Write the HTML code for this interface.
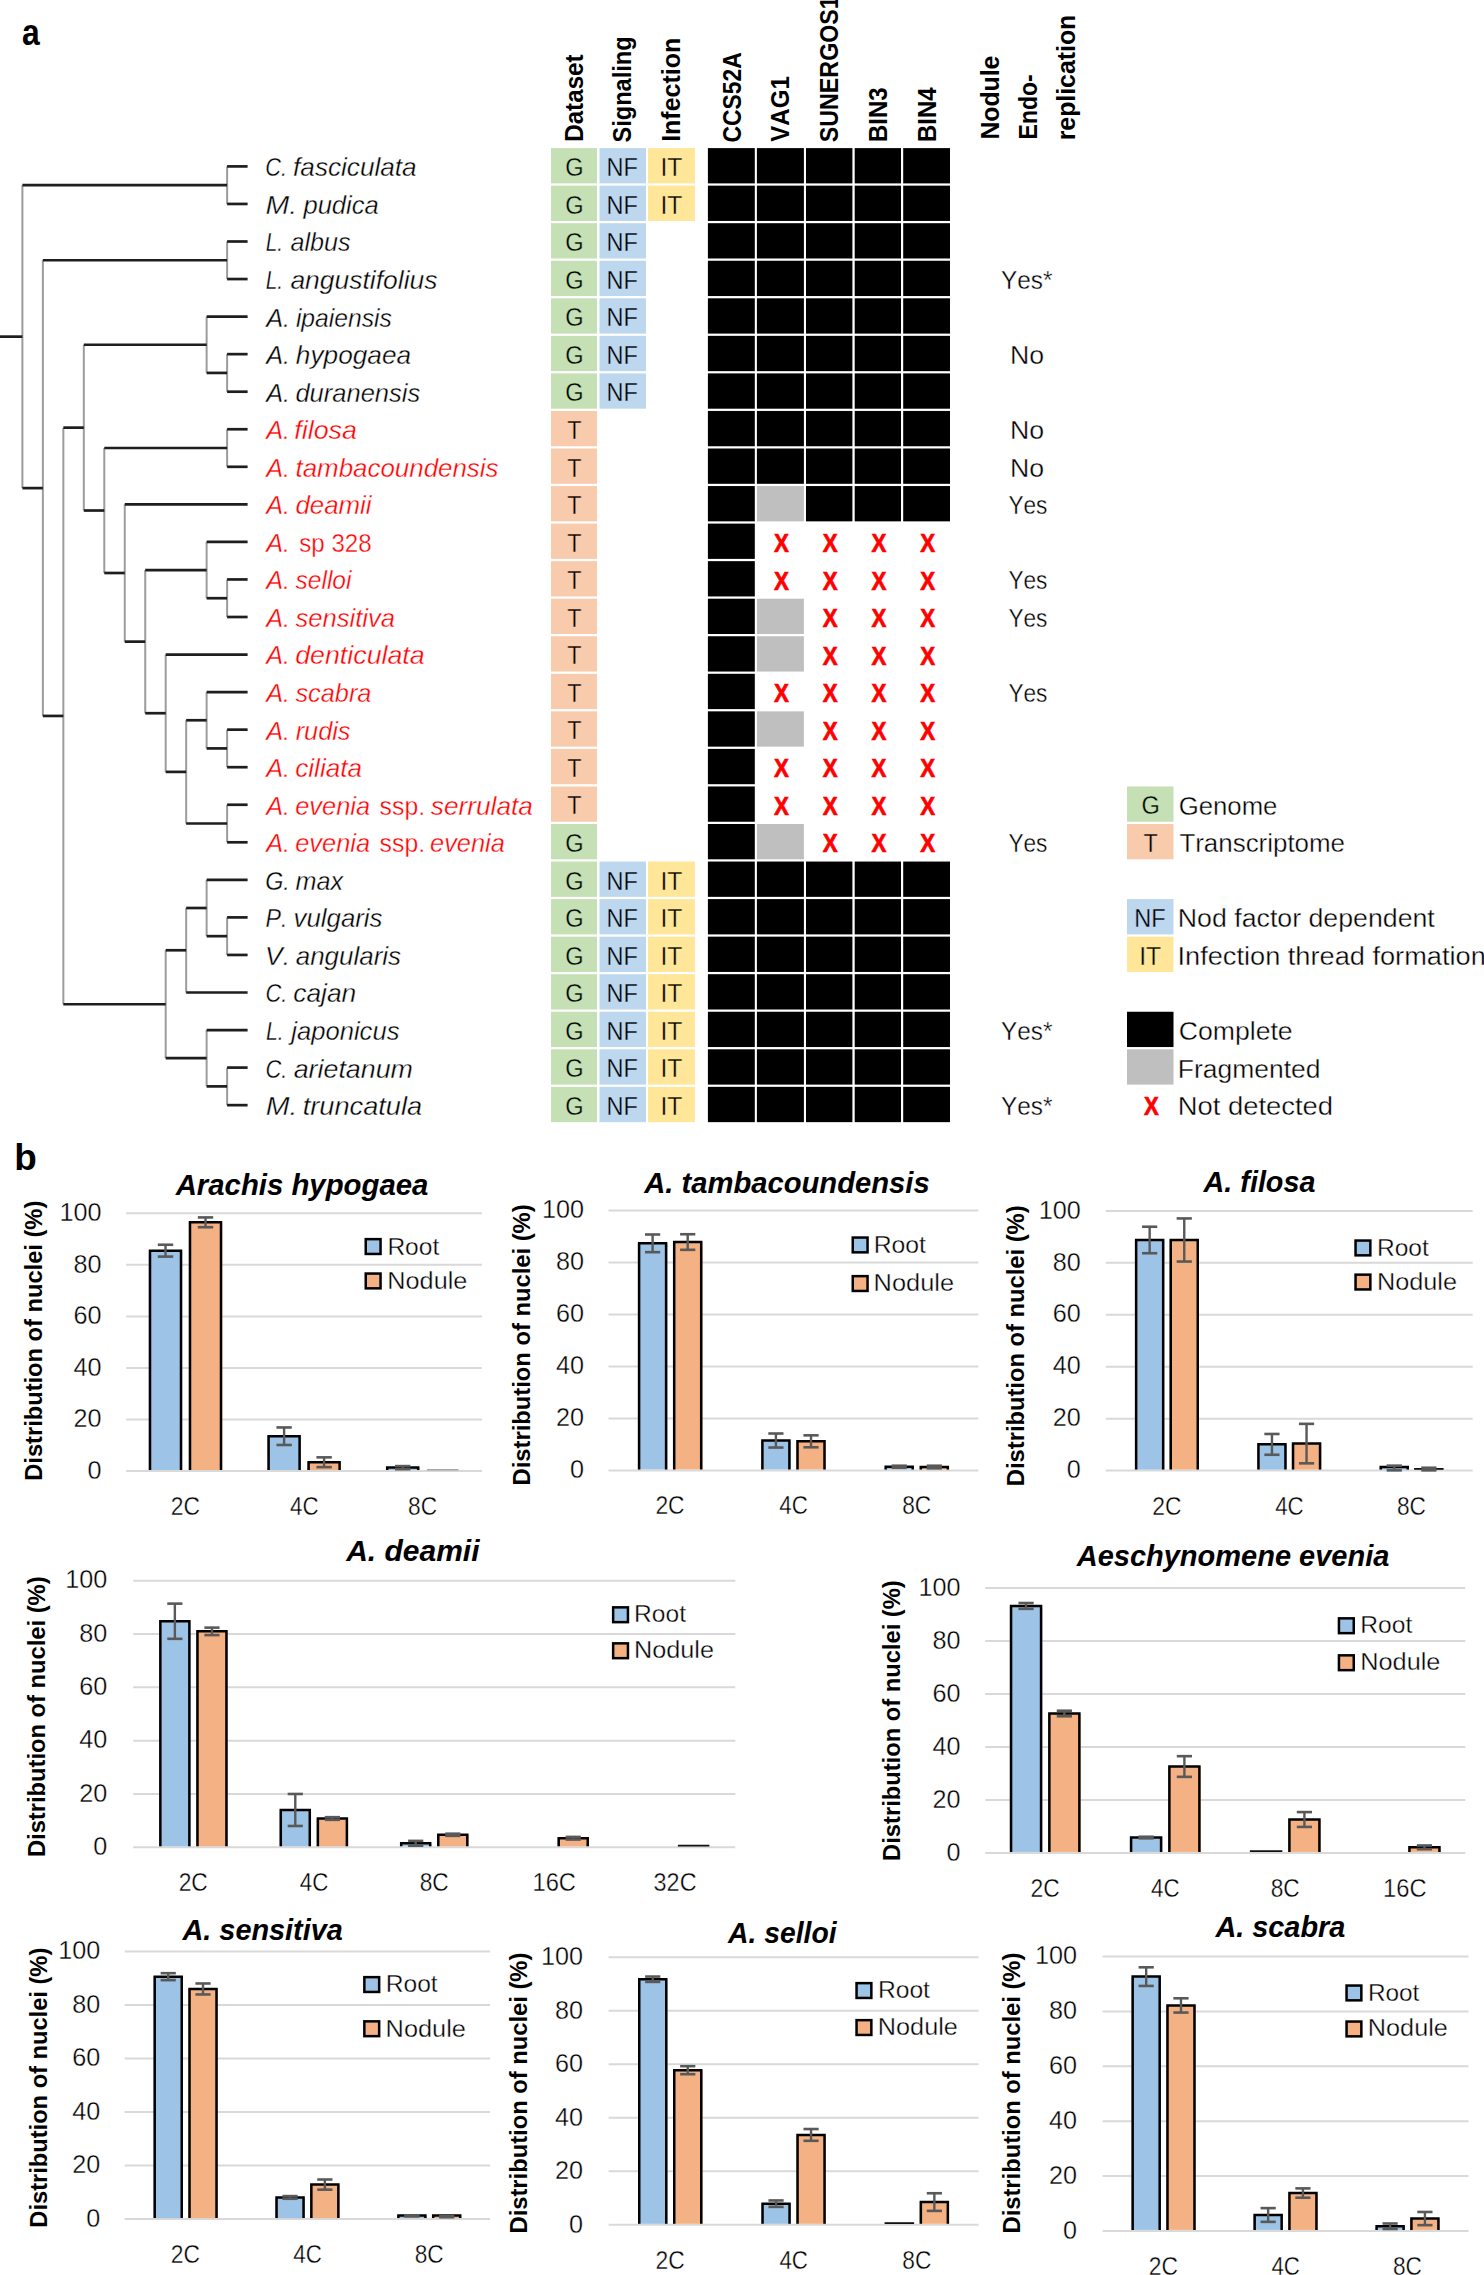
<!DOCTYPE html>
<html><head><meta charset="utf-8"><title>Figure</title>
<style>
html,body{margin:0;padding:0;background:#fff;}
body{width:1484px;height:2275px;overflow:hidden;}
svg{display:block;}
text{font-family:"Liberation Sans",sans-serif;font-kerning:none;font-variant-ligatures:none;}
</style></head><body>
<svg width="1484" height="2275" viewBox="0 0 1484 2275">
<rect x="0" y="0" width="1484" height="2275" fill="#fff"/>
<text x="21.97" y="44.50" font-size="37.50" textLength="17.73" lengthAdjust="spacingAndGlyphs" font-weight="bold">a</text>
<line x1="227.10" y1="166.40" x2="227.10" y2="203.95" stroke="#9c9c9c" stroke-width="2.0"/>
<line x1="227.10" y1="241.50" x2="227.10" y2="279.05" stroke="#9c9c9c" stroke-width="2.0"/>
<line x1="227.10" y1="354.15" x2="227.10" y2="391.70" stroke="#9c9c9c" stroke-width="2.0"/>
<line x1="206.63" y1="316.60" x2="206.63" y2="372.92" stroke="#9c9c9c" stroke-width="2.0"/>
<line x1="227.10" y1="429.25" x2="227.10" y2="466.80" stroke="#9c9c9c" stroke-width="2.0"/>
<line x1="227.10" y1="579.45" x2="227.10" y2="617.00" stroke="#9c9c9c" stroke-width="2.0"/>
<line x1="206.63" y1="541.90" x2="206.63" y2="598.22" stroke="#9c9c9c" stroke-width="2.0"/>
<line x1="227.10" y1="729.65" x2="227.10" y2="767.20" stroke="#9c9c9c" stroke-width="2.0"/>
<line x1="206.63" y1="692.10" x2="206.63" y2="748.42" stroke="#9c9c9c" stroke-width="2.0"/>
<line x1="227.10" y1="804.75" x2="227.10" y2="842.30" stroke="#9c9c9c" stroke-width="2.0"/>
<line x1="186.16" y1="720.26" x2="186.16" y2="823.52" stroke="#9c9c9c" stroke-width="2.0"/>
<line x1="165.69" y1="654.55" x2="165.69" y2="771.89" stroke="#9c9c9c" stroke-width="2.0"/>
<line x1="145.22" y1="570.06" x2="145.22" y2="713.22" stroke="#9c9c9c" stroke-width="2.0"/>
<line x1="124.75" y1="504.35" x2="124.75" y2="641.64" stroke="#9c9c9c" stroke-width="2.0"/>
<line x1="104.28" y1="448.02" x2="104.28" y2="573.00" stroke="#9c9c9c" stroke-width="2.0"/>
<line x1="83.81" y1="344.76" x2="83.81" y2="510.51" stroke="#9c9c9c" stroke-width="2.0"/>
<line x1="227.10" y1="917.40" x2="227.10" y2="954.95" stroke="#9c9c9c" stroke-width="2.0"/>
<line x1="206.63" y1="879.85" x2="206.63" y2="936.17" stroke="#9c9c9c" stroke-width="2.0"/>
<line x1="186.16" y1="908.01" x2="186.16" y2="992.50" stroke="#9c9c9c" stroke-width="2.0"/>
<line x1="227.10" y1="1067.60" x2="227.10" y2="1105.15" stroke="#9c9c9c" stroke-width="2.0"/>
<line x1="206.63" y1="1030.05" x2="206.63" y2="1086.38" stroke="#9c9c9c" stroke-width="2.0"/>
<line x1="165.69" y1="950.26" x2="165.69" y2="1058.21" stroke="#9c9c9c" stroke-width="2.0"/>
<line x1="63.34" y1="427.64" x2="63.34" y2="1004.23" stroke="#9c9c9c" stroke-width="2.0"/>
<line x1="42.87" y1="260.27" x2="42.87" y2="715.94" stroke="#9c9c9c" stroke-width="2.0"/>
<line x1="22.40" y1="185.18" x2="22.40" y2="488.11" stroke="#9c9c9c" stroke-width="2.0"/>
<line x1="227.10" y1="166.40" x2="247.60" y2="166.40" stroke="#1e1e1e" stroke-width="2.7"/>
<line x1="227.10" y1="203.95" x2="247.60" y2="203.95" stroke="#1e1e1e" stroke-width="2.7"/>
<line x1="22.40" y1="185.18" x2="227.10" y2="185.18" stroke="#1e1e1e" stroke-width="2.7"/>
<line x1="227.10" y1="241.50" x2="247.60" y2="241.50" stroke="#1e1e1e" stroke-width="2.7"/>
<line x1="227.10" y1="279.05" x2="247.60" y2="279.05" stroke="#1e1e1e" stroke-width="2.7"/>
<line x1="42.87" y1="260.27" x2="227.10" y2="260.27" stroke="#1e1e1e" stroke-width="2.7"/>
<line x1="206.63" y1="316.60" x2="247.60" y2="316.60" stroke="#1e1e1e" stroke-width="2.7"/>
<line x1="227.10" y1="354.15" x2="247.60" y2="354.15" stroke="#1e1e1e" stroke-width="2.7"/>
<line x1="227.10" y1="391.70" x2="247.60" y2="391.70" stroke="#1e1e1e" stroke-width="2.7"/>
<line x1="206.63" y1="372.92" x2="227.10" y2="372.92" stroke="#1e1e1e" stroke-width="2.7"/>
<line x1="83.81" y1="344.76" x2="206.63" y2="344.76" stroke="#1e1e1e" stroke-width="2.7"/>
<line x1="227.10" y1="429.25" x2="247.60" y2="429.25" stroke="#1e1e1e" stroke-width="2.7"/>
<line x1="227.10" y1="466.80" x2="247.60" y2="466.80" stroke="#1e1e1e" stroke-width="2.7"/>
<line x1="104.28" y1="448.02" x2="227.10" y2="448.02" stroke="#1e1e1e" stroke-width="2.7"/>
<line x1="124.75" y1="504.35" x2="247.60" y2="504.35" stroke="#1e1e1e" stroke-width="2.7"/>
<line x1="206.63" y1="541.90" x2="247.60" y2="541.90" stroke="#1e1e1e" stroke-width="2.7"/>
<line x1="227.10" y1="579.45" x2="247.60" y2="579.45" stroke="#1e1e1e" stroke-width="2.7"/>
<line x1="227.10" y1="617.00" x2="247.60" y2="617.00" stroke="#1e1e1e" stroke-width="2.7"/>
<line x1="206.63" y1="598.22" x2="227.10" y2="598.22" stroke="#1e1e1e" stroke-width="2.7"/>
<line x1="145.22" y1="570.06" x2="206.63" y2="570.06" stroke="#1e1e1e" stroke-width="2.7"/>
<line x1="165.69" y1="654.55" x2="247.60" y2="654.55" stroke="#1e1e1e" stroke-width="2.7"/>
<line x1="206.63" y1="692.10" x2="247.60" y2="692.10" stroke="#1e1e1e" stroke-width="2.7"/>
<line x1="227.10" y1="729.65" x2="247.60" y2="729.65" stroke="#1e1e1e" stroke-width="2.7"/>
<line x1="227.10" y1="767.20" x2="247.60" y2="767.20" stroke="#1e1e1e" stroke-width="2.7"/>
<line x1="206.63" y1="748.42" x2="227.10" y2="748.42" stroke="#1e1e1e" stroke-width="2.7"/>
<line x1="186.16" y1="720.26" x2="206.63" y2="720.26" stroke="#1e1e1e" stroke-width="2.7"/>
<line x1="227.10" y1="804.75" x2="247.60" y2="804.75" stroke="#1e1e1e" stroke-width="2.7"/>
<line x1="227.10" y1="842.30" x2="247.60" y2="842.30" stroke="#1e1e1e" stroke-width="2.7"/>
<line x1="186.16" y1="823.52" x2="227.10" y2="823.52" stroke="#1e1e1e" stroke-width="2.7"/>
<line x1="165.69" y1="771.89" x2="186.16" y2="771.89" stroke="#1e1e1e" stroke-width="2.7"/>
<line x1="145.22" y1="713.22" x2="165.69" y2="713.22" stroke="#1e1e1e" stroke-width="2.7"/>
<line x1="124.75" y1="641.64" x2="145.22" y2="641.64" stroke="#1e1e1e" stroke-width="2.7"/>
<line x1="104.28" y1="573.00" x2="124.75" y2="573.00" stroke="#1e1e1e" stroke-width="2.7"/>
<line x1="83.81" y1="510.51" x2="104.28" y2="510.51" stroke="#1e1e1e" stroke-width="2.7"/>
<line x1="63.34" y1="427.64" x2="83.81" y2="427.64" stroke="#1e1e1e" stroke-width="2.7"/>
<line x1="206.63" y1="879.85" x2="247.60" y2="879.85" stroke="#1e1e1e" stroke-width="2.7"/>
<line x1="227.10" y1="917.40" x2="247.60" y2="917.40" stroke="#1e1e1e" stroke-width="2.7"/>
<line x1="227.10" y1="954.95" x2="247.60" y2="954.95" stroke="#1e1e1e" stroke-width="2.7"/>
<line x1="206.63" y1="936.17" x2="227.10" y2="936.17" stroke="#1e1e1e" stroke-width="2.7"/>
<line x1="186.16" y1="908.01" x2="206.63" y2="908.01" stroke="#1e1e1e" stroke-width="2.7"/>
<line x1="186.16" y1="992.50" x2="247.60" y2="992.50" stroke="#1e1e1e" stroke-width="2.7"/>
<line x1="165.69" y1="950.26" x2="186.16" y2="950.26" stroke="#1e1e1e" stroke-width="2.7"/>
<line x1="206.63" y1="1030.05" x2="247.60" y2="1030.05" stroke="#1e1e1e" stroke-width="2.7"/>
<line x1="227.10" y1="1067.60" x2="247.60" y2="1067.60" stroke="#1e1e1e" stroke-width="2.7"/>
<line x1="227.10" y1="1105.15" x2="247.60" y2="1105.15" stroke="#1e1e1e" stroke-width="2.7"/>
<line x1="206.63" y1="1086.38" x2="227.10" y2="1086.38" stroke="#1e1e1e" stroke-width="2.7"/>
<line x1="165.69" y1="1058.21" x2="206.63" y2="1058.21" stroke="#1e1e1e" stroke-width="2.7"/>
<line x1="63.34" y1="1004.23" x2="165.69" y2="1004.23" stroke="#1e1e1e" stroke-width="2.7"/>
<line x1="42.87" y1="715.94" x2="63.34" y2="715.94" stroke="#1e1e1e" stroke-width="2.7"/>
<line x1="22.40" y1="488.11" x2="42.87" y2="488.11" stroke="#1e1e1e" stroke-width="2.7"/>
<line x1="0.00" y1="336.64" x2="22.40" y2="336.64" stroke="#1e1e1e" stroke-width="2.7"/>
<text x="265.20" y="176.30" font-size="25.60" textLength="21.77" lengthAdjust="spacingAndGlyphs" font-style="italic" stroke="#fff" stroke-width="0.35">C.</text>
<text x="293.12" y="176.30" font-size="25.60" textLength="123.47" lengthAdjust="spacingAndGlyphs" font-style="italic" stroke="#fff" stroke-width="0.35">fasciculata</text>
<text x="265.52" y="213.85" font-size="25.60" textLength="31.67" lengthAdjust="spacingAndGlyphs" font-style="italic" stroke="#fff" stroke-width="0.35">M.</text>
<text x="303.44" y="213.85" font-size="25.60" textLength="75.34" lengthAdjust="spacingAndGlyphs" font-style="italic" stroke="#fff" stroke-width="0.35">pudica</text>
<text x="265.76" y="251.40" font-size="25.60" textLength="17.40" lengthAdjust="spacingAndGlyphs" font-style="italic" stroke="#fff" stroke-width="0.35">L.</text>
<text x="290.44" y="251.40" font-size="25.60" textLength="60.08" lengthAdjust="spacingAndGlyphs" font-style="italic" stroke="#fff" stroke-width="0.35">albus</text>
<text x="265.76" y="288.95" font-size="25.60" textLength="17.40" lengthAdjust="spacingAndGlyphs" font-style="italic" stroke="#fff" stroke-width="0.35">L.</text>
<text x="290.41" y="288.95" font-size="25.60" textLength="147.04" lengthAdjust="spacingAndGlyphs" font-style="italic" stroke="#fff" stroke-width="0.35">angustifolius</text>
<text x="266.24" y="326.50" font-size="25.60" textLength="23.85" lengthAdjust="spacingAndGlyphs" font-style="italic" stroke="#fff" stroke-width="0.35">A.</text>
<text x="295.90" y="326.50" font-size="25.60" textLength="96.00" lengthAdjust="spacingAndGlyphs" font-style="italic" stroke="#fff" stroke-width="0.35">ipaiensis</text>
<text x="266.24" y="364.05" font-size="25.60" textLength="23.85" lengthAdjust="spacingAndGlyphs" font-style="italic" stroke="#fff" stroke-width="0.35">A.</text>
<text x="295.86" y="364.05" font-size="25.60" textLength="115.23" lengthAdjust="spacingAndGlyphs" font-style="italic" stroke="#fff" stroke-width="0.35">hypogaea</text>
<text x="266.24" y="401.60" font-size="25.60" textLength="23.85" lengthAdjust="spacingAndGlyphs" font-style="italic" stroke="#fff" stroke-width="0.35">A.</text>
<text x="295.44" y="401.60" font-size="25.60" textLength="124.78" lengthAdjust="spacingAndGlyphs" font-style="italic" stroke="#fff" stroke-width="0.35">duranensis</text>
<text x="266.24" y="439.15" font-size="25.60" textLength="23.85" lengthAdjust="spacingAndGlyphs" font-style="italic" fill="#FF0000" stroke="#fff" stroke-width="0.35">A.</text>
<text x="294.29" y="439.15" font-size="25.60" textLength="62.72" lengthAdjust="spacingAndGlyphs" font-style="italic" fill="#FF0000" stroke="#fff" stroke-width="0.35">filosa</text>
<text x="266.24" y="476.70" font-size="25.60" textLength="23.85" lengthAdjust="spacingAndGlyphs" font-style="italic" fill="#FF0000" stroke="#fff" stroke-width="0.35">A.</text>
<text x="295.52" y="476.70" font-size="25.60" textLength="203.01" lengthAdjust="spacingAndGlyphs" font-style="italic" fill="#FF0000" stroke="#fff" stroke-width="0.35">tambacoundensis</text>
<text x="266.24" y="514.25" font-size="25.60" textLength="23.85" lengthAdjust="spacingAndGlyphs" font-style="italic" fill="#FF0000" stroke="#fff" stroke-width="0.35">A.</text>
<text x="295.43" y="514.25" font-size="25.60" textLength="76.19" lengthAdjust="spacingAndGlyphs" font-style="italic" fill="#FF0000" stroke="#fff" stroke-width="0.35">deamii</text>
<text x="266.24" y="589.35" font-size="25.60" textLength="23.85" lengthAdjust="spacingAndGlyphs" font-style="italic" fill="#FF0000" stroke="#fff" stroke-width="0.35">A.</text>
<text x="295.54" y="589.35" font-size="25.60" textLength="55.91" lengthAdjust="spacingAndGlyphs" font-style="italic" fill="#FF0000" stroke="#fff" stroke-width="0.35">selloi</text>
<text x="266.24" y="626.90" font-size="25.60" textLength="23.85" lengthAdjust="spacingAndGlyphs" font-style="italic" fill="#FF0000" stroke="#fff" stroke-width="0.35">A.</text>
<text x="295.44" y="626.90" font-size="25.60" textLength="99.54" lengthAdjust="spacingAndGlyphs" font-style="italic" fill="#FF0000" stroke="#fff" stroke-width="0.35">sensitiva</text>
<text x="266.24" y="664.45" font-size="25.60" textLength="23.85" lengthAdjust="spacingAndGlyphs" font-style="italic" fill="#FF0000" stroke="#fff" stroke-width="0.35">A.</text>
<text x="295.20" y="664.45" font-size="25.60" textLength="129.52" lengthAdjust="spacingAndGlyphs" font-style="italic" fill="#FF0000" stroke="#fff" stroke-width="0.35">denticulata</text>
<text x="266.24" y="702.00" font-size="25.60" textLength="23.85" lengthAdjust="spacingAndGlyphs" font-style="italic" fill="#FF0000" stroke="#fff" stroke-width="0.35">A.</text>
<text x="295.44" y="702.00" font-size="25.60" textLength="76.03" lengthAdjust="spacingAndGlyphs" font-style="italic" fill="#FF0000" stroke="#fff" stroke-width="0.35">scabra</text>
<text x="266.24" y="739.55" font-size="25.60" textLength="23.85" lengthAdjust="spacingAndGlyphs" font-style="italic" fill="#FF0000" stroke="#fff" stroke-width="0.35">A.</text>
<text x="295.68" y="739.55" font-size="25.60" textLength="54.84" lengthAdjust="spacingAndGlyphs" font-style="italic" fill="#FF0000" stroke="#fff" stroke-width="0.35">rudis</text>
<text x="266.24" y="777.10" font-size="25.60" textLength="23.85" lengthAdjust="spacingAndGlyphs" font-style="italic" fill="#FF0000" stroke="#fff" stroke-width="0.35">A.</text>
<text x="295.25" y="777.10" font-size="25.60" textLength="66.75" lengthAdjust="spacingAndGlyphs" font-style="italic" fill="#FF0000" stroke="#fff" stroke-width="0.35">ciliata</text>
<text x="265.15" y="889.75" font-size="25.60" textLength="24.61" lengthAdjust="spacingAndGlyphs" font-style="italic" stroke="#fff" stroke-width="0.35">G.</text>
<text x="295.58" y="889.75" font-size="25.60" textLength="47.58" lengthAdjust="spacingAndGlyphs" font-style="italic" stroke="#fff" stroke-width="0.35">max</text>
<text x="265.59" y="927.30" font-size="25.60" textLength="21.84" lengthAdjust="spacingAndGlyphs" font-style="italic" stroke="#fff" stroke-width="0.35">P.</text>
<text x="293.49" y="927.30" font-size="25.60" textLength="89.04" lengthAdjust="spacingAndGlyphs" font-style="italic" stroke="#fff" stroke-width="0.35">vulgaris</text>
<text x="265.11" y="964.85" font-size="25.60" textLength="25.04" lengthAdjust="spacingAndGlyphs" font-style="italic" stroke="#fff" stroke-width="0.35">V.</text>
<text x="295.72" y="964.85" font-size="25.60" textLength="105.32" lengthAdjust="spacingAndGlyphs" font-style="italic" stroke="#fff" stroke-width="0.35">angularis</text>
<text x="265.39" y="1002.40" font-size="25.60" textLength="21.89" lengthAdjust="spacingAndGlyphs" font-style="italic" stroke="#fff" stroke-width="0.35">C.</text>
<text x="293.24" y="1002.40" font-size="25.60" textLength="62.96" lengthAdjust="spacingAndGlyphs" font-style="italic" stroke="#fff" stroke-width="0.35">cajan</text>
<text x="265.94" y="1039.95" font-size="25.60" textLength="17.77" lengthAdjust="spacingAndGlyphs" font-style="italic" stroke="#fff" stroke-width="0.35">L.</text>
<text x="291.36" y="1039.95" font-size="25.60" textLength="108.06" lengthAdjust="spacingAndGlyphs" font-style="italic" stroke="#fff" stroke-width="0.35">japonicus</text>
<text x="265.39" y="1077.50" font-size="25.60" textLength="21.89" lengthAdjust="spacingAndGlyphs" font-style="italic" stroke="#fff" stroke-width="0.35">C.</text>
<text x="293.70" y="1077.50" font-size="25.60" textLength="119.25" lengthAdjust="spacingAndGlyphs" font-style="italic" stroke="#fff" stroke-width="0.35">arietanum</text>
<text x="265.72" y="1115.05" font-size="25.60" textLength="31.79" lengthAdjust="spacingAndGlyphs" font-style="italic" stroke="#fff" stroke-width="0.35">M.</text>
<text x="302.77" y="1115.05" font-size="25.60" textLength="119.36" lengthAdjust="spacingAndGlyphs" font-style="italic" stroke="#fff" stroke-width="0.35">truncatula</text>
<text x="266.24" y="551.80" font-size="25.60" textLength="23.85" lengthAdjust="spacingAndGlyphs" font-style="italic" fill="#FF0000" stroke="#fff" stroke-width="0.35">A.</text>
<text x="299.23" y="551.80" font-size="25.60" textLength="72.42" lengthAdjust="spacingAndGlyphs" fill="#FF0000" stroke="#fff" stroke-width="0.35">sp 328</text>
<text x="266.24" y="814.65" font-size="25.60" textLength="23.85" lengthAdjust="spacingAndGlyphs" font-style="italic" fill="#FF0000" stroke="#fff" stroke-width="0.35">A.</text>
<text x="295.24" y="814.65" font-size="25.60" textLength="74.82" lengthAdjust="spacingAndGlyphs" font-style="italic" fill="#FF0000" stroke="#fff" stroke-width="0.35">evenia</text>
<text x="379.61" y="814.65" font-size="25.60" textLength="45.45" lengthAdjust="spacingAndGlyphs" fill="#FF0000" stroke="#fff" stroke-width="0.35">ssp.</text>
<text x="430.84" y="814.65" font-size="25.60" textLength="102.06" lengthAdjust="spacingAndGlyphs" font-style="italic" fill="#FF0000" stroke="#fff" stroke-width="0.35">serrulata</text>
<text x="266.24" y="852.20" font-size="25.60" textLength="23.85" lengthAdjust="spacingAndGlyphs" font-style="italic" fill="#FF0000" stroke="#fff" stroke-width="0.35">A.</text>
<text x="295.24" y="852.20" font-size="25.60" textLength="74.82" lengthAdjust="spacingAndGlyphs" font-style="italic" fill="#FF0000" stroke="#fff" stroke-width="0.35">evenia</text>
<text x="379.61" y="852.20" font-size="25.60" textLength="45.45" lengthAdjust="spacingAndGlyphs" fill="#FF0000" stroke="#fff" stroke-width="0.35">ssp.</text>
<text x="430.04" y="852.20" font-size="25.60" textLength="74.82" lengthAdjust="spacingAndGlyphs" font-style="italic" fill="#FF0000" stroke="#fff" stroke-width="0.35">evenia</text>
<text x="-1.62" y="0" font-size="26.00" textLength="87.41" lengthAdjust="spacingAndGlyphs" transform="translate(582.80,140.20) rotate(-90)" font-weight="bold">Dataset</text>
<text x="-0.68" y="0" font-size="26.00" textLength="106.06" lengthAdjust="spacingAndGlyphs" transform="translate(631.40,141.80) rotate(-90)" font-weight="bold">Signaling</text>
<text x="-1.67" y="0" font-size="26.00" textLength="104.02" lengthAdjust="spacingAndGlyphs" transform="translate(680.00,140.20) rotate(-90)" font-weight="bold">Infection</text>
<text x="-0.94" y="0" font-size="26.00" textLength="90.24" lengthAdjust="spacingAndGlyphs" transform="translate(740.70,141.50) rotate(-90)" font-weight="bold">CCS52A</text>
<text x="-0.16" y="0" font-size="26.00" textLength="65.43" lengthAdjust="spacingAndGlyphs" transform="translate(789.20,141.50) rotate(-90)" font-weight="bold">VAG1</text>
<text x="-0.67" y="0" font-size="26.00" textLength="145.82" lengthAdjust="spacingAndGlyphs" transform="translate(838.10,141.50) rotate(-90)" font-weight="bold">SUNERGOS1</text>
<text x="-1.60" y="0" font-size="26.00" textLength="54.46" lengthAdjust="spacingAndGlyphs" transform="translate(887.10,140.30) rotate(-90)" font-weight="bold">BIN3</text>
<text x="-1.60" y="0" font-size="26.00" textLength="54.43" lengthAdjust="spacingAndGlyphs" transform="translate(935.60,140.30) rotate(-90)" font-weight="bold">BIN4</text>
<text x="-1.65" y="0" font-size="26.00" textLength="83.80" lengthAdjust="spacingAndGlyphs" transform="translate(998.70,137.90) rotate(-90)" font-weight="bold">Nodule</text>
<text x="-1.54" y="0" font-size="26.00" textLength="65.16" lengthAdjust="spacingAndGlyphs" transform="translate(1036.70,137.90) rotate(-90)" font-weight="bold">Endo-</text>
<text x="-1.64" y="0" font-size="26.00" textLength="125.58" lengthAdjust="spacingAndGlyphs" transform="translate(1074.70,138.70) rotate(-90)" font-weight="bold">replication</text>
<rect x="551.00" y="148.10" width="46.00" height="35.30" fill="#C5E0B4"/>
<text x="565.21" y="176.10" font-size="25.60" textLength="18.35" lengthAdjust="spacingAndGlyphs" stroke="#C5E0B4" stroke-width="0.35">G</text>
<rect x="599.50" y="148.10" width="46.50" height="35.30" fill="#BDD7EE"/>
<text x="606.57" y="176.10" font-size="25.60" textLength="31.37" lengthAdjust="spacingAndGlyphs" stroke="#BDD7EE" stroke-width="0.35">NF</text>
<rect x="648.00" y="148.10" width="47.00" height="35.30" fill="#FFE699"/>
<text x="660.47" y="176.10" font-size="25.60" textLength="21.95" lengthAdjust="spacingAndGlyphs" stroke="#FFE699" stroke-width="0.35">IT</text>
<rect x="707.90" y="148.10" width="46.90" height="35.30" fill="#000"/>
<rect x="756.90" y="148.10" width="47.00" height="35.30" fill="#000"/>
<rect x="806.00" y="148.10" width="46.40" height="35.30" fill="#000"/>
<rect x="854.70" y="148.10" width="46.30" height="35.30" fill="#000"/>
<rect x="903.20" y="148.10" width="46.80" height="35.30" fill="#000"/>
<rect x="551.00" y="185.65" width="46.00" height="35.30" fill="#C5E0B4"/>
<text x="565.21" y="213.65" font-size="25.60" textLength="18.35" lengthAdjust="spacingAndGlyphs" stroke="#C5E0B4" stroke-width="0.35">G</text>
<rect x="599.50" y="185.65" width="46.50" height="35.30" fill="#BDD7EE"/>
<text x="606.57" y="213.65" font-size="25.60" textLength="31.37" lengthAdjust="spacingAndGlyphs" stroke="#BDD7EE" stroke-width="0.35">NF</text>
<rect x="648.00" y="185.65" width="47.00" height="35.30" fill="#FFE699"/>
<text x="660.47" y="213.65" font-size="25.60" textLength="21.95" lengthAdjust="spacingAndGlyphs" stroke="#FFE699" stroke-width="0.35">IT</text>
<rect x="707.90" y="185.65" width="46.90" height="35.30" fill="#000"/>
<rect x="756.90" y="185.65" width="47.00" height="35.30" fill="#000"/>
<rect x="806.00" y="185.65" width="46.40" height="35.30" fill="#000"/>
<rect x="854.70" y="185.65" width="46.30" height="35.30" fill="#000"/>
<rect x="903.20" y="185.65" width="46.80" height="35.30" fill="#000"/>
<rect x="551.00" y="223.20" width="46.00" height="35.30" fill="#C5E0B4"/>
<text x="565.21" y="251.20" font-size="25.60" textLength="18.35" lengthAdjust="spacingAndGlyphs" stroke="#C5E0B4" stroke-width="0.35">G</text>
<rect x="599.50" y="223.20" width="46.50" height="35.30" fill="#BDD7EE"/>
<text x="606.57" y="251.20" font-size="25.60" textLength="31.37" lengthAdjust="spacingAndGlyphs" stroke="#BDD7EE" stroke-width="0.35">NF</text>
<rect x="707.90" y="223.20" width="46.90" height="35.30" fill="#000"/>
<rect x="756.90" y="223.20" width="47.00" height="35.30" fill="#000"/>
<rect x="806.00" y="223.20" width="46.40" height="35.30" fill="#000"/>
<rect x="854.70" y="223.20" width="46.30" height="35.30" fill="#000"/>
<rect x="903.20" y="223.20" width="46.80" height="35.30" fill="#000"/>
<rect x="551.00" y="260.75" width="46.00" height="35.30" fill="#C5E0B4"/>
<text x="565.21" y="288.75" font-size="25.60" textLength="18.35" lengthAdjust="spacingAndGlyphs" stroke="#C5E0B4" stroke-width="0.35">G</text>
<rect x="599.50" y="260.75" width="46.50" height="35.30" fill="#BDD7EE"/>
<text x="606.57" y="288.75" font-size="25.60" textLength="31.37" lengthAdjust="spacingAndGlyphs" stroke="#BDD7EE" stroke-width="0.35">NF</text>
<rect x="707.90" y="260.75" width="46.90" height="35.30" fill="#000"/>
<rect x="756.90" y="260.75" width="47.00" height="35.30" fill="#000"/>
<rect x="806.00" y="260.75" width="46.40" height="35.30" fill="#000"/>
<rect x="854.70" y="260.75" width="46.30" height="35.30" fill="#000"/>
<rect x="903.20" y="260.75" width="46.80" height="35.30" fill="#000"/>
<rect x="551.00" y="298.30" width="46.00" height="35.30" fill="#C5E0B4"/>
<text x="565.21" y="326.30" font-size="25.60" textLength="18.35" lengthAdjust="spacingAndGlyphs" stroke="#C5E0B4" stroke-width="0.35">G</text>
<rect x="599.50" y="298.30" width="46.50" height="35.30" fill="#BDD7EE"/>
<text x="606.57" y="326.30" font-size="25.60" textLength="31.37" lengthAdjust="spacingAndGlyphs" stroke="#BDD7EE" stroke-width="0.35">NF</text>
<rect x="707.90" y="298.30" width="46.90" height="35.30" fill="#000"/>
<rect x="756.90" y="298.30" width="47.00" height="35.30" fill="#000"/>
<rect x="806.00" y="298.30" width="46.40" height="35.30" fill="#000"/>
<rect x="854.70" y="298.30" width="46.30" height="35.30" fill="#000"/>
<rect x="903.20" y="298.30" width="46.80" height="35.30" fill="#000"/>
<rect x="551.00" y="335.85" width="46.00" height="35.30" fill="#C5E0B4"/>
<text x="565.21" y="363.85" font-size="25.60" textLength="18.35" lengthAdjust="spacingAndGlyphs" stroke="#C5E0B4" stroke-width="0.35">G</text>
<rect x="599.50" y="335.85" width="46.50" height="35.30" fill="#BDD7EE"/>
<text x="606.57" y="363.85" font-size="25.60" textLength="31.37" lengthAdjust="spacingAndGlyphs" stroke="#BDD7EE" stroke-width="0.35">NF</text>
<rect x="707.90" y="335.85" width="46.90" height="35.30" fill="#000"/>
<rect x="756.90" y="335.85" width="47.00" height="35.30" fill="#000"/>
<rect x="806.00" y="335.85" width="46.40" height="35.30" fill="#000"/>
<rect x="854.70" y="335.85" width="46.30" height="35.30" fill="#000"/>
<rect x="903.20" y="335.85" width="46.80" height="35.30" fill="#000"/>
<rect x="551.00" y="373.40" width="46.00" height="35.30" fill="#C5E0B4"/>
<text x="565.21" y="401.40" font-size="25.60" textLength="18.35" lengthAdjust="spacingAndGlyphs" stroke="#C5E0B4" stroke-width="0.35">G</text>
<rect x="599.50" y="373.40" width="46.50" height="35.30" fill="#BDD7EE"/>
<text x="606.57" y="401.40" font-size="25.60" textLength="31.37" lengthAdjust="spacingAndGlyphs" stroke="#BDD7EE" stroke-width="0.35">NF</text>
<rect x="707.90" y="373.40" width="46.90" height="35.30" fill="#000"/>
<rect x="756.90" y="373.40" width="47.00" height="35.30" fill="#000"/>
<rect x="806.00" y="373.40" width="46.40" height="35.30" fill="#000"/>
<rect x="854.70" y="373.40" width="46.30" height="35.30" fill="#000"/>
<rect x="903.20" y="373.40" width="46.80" height="35.30" fill="#000"/>
<rect x="551.00" y="410.95" width="46.00" height="35.30" fill="#F8CBAD"/>
<text x="567.28" y="438.95" font-size="25.60" textLength="14.26" lengthAdjust="spacingAndGlyphs" stroke="#F8CBAD" stroke-width="0.35">T</text>
<rect x="707.90" y="410.95" width="46.90" height="35.30" fill="#000"/>
<rect x="756.90" y="410.95" width="47.00" height="35.30" fill="#000"/>
<rect x="806.00" y="410.95" width="46.40" height="35.30" fill="#000"/>
<rect x="854.70" y="410.95" width="46.30" height="35.30" fill="#000"/>
<rect x="903.20" y="410.95" width="46.80" height="35.30" fill="#000"/>
<rect x="551.00" y="448.50" width="46.00" height="35.30" fill="#F8CBAD"/>
<text x="567.28" y="476.50" font-size="25.60" textLength="14.26" lengthAdjust="spacingAndGlyphs" stroke="#F8CBAD" stroke-width="0.35">T</text>
<rect x="707.90" y="448.50" width="46.90" height="35.30" fill="#000"/>
<rect x="756.90" y="448.50" width="47.00" height="35.30" fill="#000"/>
<rect x="806.00" y="448.50" width="46.40" height="35.30" fill="#000"/>
<rect x="854.70" y="448.50" width="46.30" height="35.30" fill="#000"/>
<rect x="903.20" y="448.50" width="46.80" height="35.30" fill="#000"/>
<rect x="551.00" y="486.05" width="46.00" height="35.30" fill="#F8CBAD"/>
<text x="567.28" y="514.05" font-size="25.60" textLength="14.26" lengthAdjust="spacingAndGlyphs" stroke="#F8CBAD" stroke-width="0.35">T</text>
<rect x="707.90" y="486.05" width="46.90" height="35.30" fill="#000"/>
<rect x="756.90" y="486.05" width="47.00" height="35.30" fill="#BFBFBF"/>
<rect x="806.00" y="486.05" width="46.40" height="35.30" fill="#000"/>
<rect x="854.70" y="486.05" width="46.30" height="35.30" fill="#000"/>
<rect x="903.20" y="486.05" width="46.80" height="35.30" fill="#000"/>
<rect x="551.00" y="523.60" width="46.00" height="35.30" fill="#F8CBAD"/>
<text x="567.28" y="551.60" font-size="25.60" textLength="14.26" lengthAdjust="spacingAndGlyphs" stroke="#F8CBAD" stroke-width="0.35">T</text>
<rect x="707.90" y="523.60" width="46.90" height="35.30" fill="#000"/>
<text x="774.05" y="552.00" font-size="25.60" textLength="14.89" lengthAdjust="spacingAndGlyphs" font-weight="bold" fill="#FF0000" stroke="#FF0000" stroke-width="0.7">X</text>
<text x="822.85" y="552.00" font-size="25.60" textLength="14.89" lengthAdjust="spacingAndGlyphs" font-weight="bold" fill="#FF0000" stroke="#FF0000" stroke-width="0.7">X</text>
<text x="871.50" y="552.00" font-size="25.60" textLength="14.89" lengthAdjust="spacingAndGlyphs" font-weight="bold" fill="#FF0000" stroke="#FF0000" stroke-width="0.7">X</text>
<text x="920.25" y="552.00" font-size="25.60" textLength="14.89" lengthAdjust="spacingAndGlyphs" font-weight="bold" fill="#FF0000" stroke="#FF0000" stroke-width="0.7">X</text>
<rect x="551.00" y="561.15" width="46.00" height="35.30" fill="#F8CBAD"/>
<text x="567.28" y="589.15" font-size="25.60" textLength="14.26" lengthAdjust="spacingAndGlyphs" stroke="#F8CBAD" stroke-width="0.35">T</text>
<rect x="707.90" y="561.15" width="46.90" height="35.30" fill="#000"/>
<text x="774.05" y="589.55" font-size="25.60" textLength="14.89" lengthAdjust="spacingAndGlyphs" font-weight="bold" fill="#FF0000" stroke="#FF0000" stroke-width="0.7">X</text>
<text x="822.85" y="589.55" font-size="25.60" textLength="14.89" lengthAdjust="spacingAndGlyphs" font-weight="bold" fill="#FF0000" stroke="#FF0000" stroke-width="0.7">X</text>
<text x="871.50" y="589.55" font-size="25.60" textLength="14.89" lengthAdjust="spacingAndGlyphs" font-weight="bold" fill="#FF0000" stroke="#FF0000" stroke-width="0.7">X</text>
<text x="920.25" y="589.55" font-size="25.60" textLength="14.89" lengthAdjust="spacingAndGlyphs" font-weight="bold" fill="#FF0000" stroke="#FF0000" stroke-width="0.7">X</text>
<rect x="551.00" y="598.70" width="46.00" height="35.30" fill="#F8CBAD"/>
<text x="567.28" y="626.70" font-size="25.60" textLength="14.26" lengthAdjust="spacingAndGlyphs" stroke="#F8CBAD" stroke-width="0.35">T</text>
<rect x="707.90" y="598.70" width="46.90" height="35.30" fill="#000"/>
<rect x="756.90" y="598.70" width="47.00" height="35.30" fill="#BFBFBF"/>
<text x="822.85" y="627.10" font-size="25.60" textLength="14.89" lengthAdjust="spacingAndGlyphs" font-weight="bold" fill="#FF0000" stroke="#FF0000" stroke-width="0.7">X</text>
<text x="871.50" y="627.10" font-size="25.60" textLength="14.89" lengthAdjust="spacingAndGlyphs" font-weight="bold" fill="#FF0000" stroke="#FF0000" stroke-width="0.7">X</text>
<text x="920.25" y="627.10" font-size="25.60" textLength="14.89" lengthAdjust="spacingAndGlyphs" font-weight="bold" fill="#FF0000" stroke="#FF0000" stroke-width="0.7">X</text>
<rect x="551.00" y="636.25" width="46.00" height="35.30" fill="#F8CBAD"/>
<text x="567.28" y="664.25" font-size="25.60" textLength="14.26" lengthAdjust="spacingAndGlyphs" stroke="#F8CBAD" stroke-width="0.35">T</text>
<rect x="707.90" y="636.25" width="46.90" height="35.30" fill="#000"/>
<rect x="756.90" y="636.25" width="47.00" height="35.30" fill="#BFBFBF"/>
<text x="822.85" y="664.65" font-size="25.60" textLength="14.89" lengthAdjust="spacingAndGlyphs" font-weight="bold" fill="#FF0000" stroke="#FF0000" stroke-width="0.7">X</text>
<text x="871.50" y="664.65" font-size="25.60" textLength="14.89" lengthAdjust="spacingAndGlyphs" font-weight="bold" fill="#FF0000" stroke="#FF0000" stroke-width="0.7">X</text>
<text x="920.25" y="664.65" font-size="25.60" textLength="14.89" lengthAdjust="spacingAndGlyphs" font-weight="bold" fill="#FF0000" stroke="#FF0000" stroke-width="0.7">X</text>
<rect x="551.00" y="673.80" width="46.00" height="35.30" fill="#F8CBAD"/>
<text x="567.28" y="701.80" font-size="25.60" textLength="14.26" lengthAdjust="spacingAndGlyphs" stroke="#F8CBAD" stroke-width="0.35">T</text>
<rect x="707.90" y="673.80" width="46.90" height="35.30" fill="#000"/>
<text x="774.05" y="702.20" font-size="25.60" textLength="14.89" lengthAdjust="spacingAndGlyphs" font-weight="bold" fill="#FF0000" stroke="#FF0000" stroke-width="0.7">X</text>
<text x="822.85" y="702.20" font-size="25.60" textLength="14.89" lengthAdjust="spacingAndGlyphs" font-weight="bold" fill="#FF0000" stroke="#FF0000" stroke-width="0.7">X</text>
<text x="871.50" y="702.20" font-size="25.60" textLength="14.89" lengthAdjust="spacingAndGlyphs" font-weight="bold" fill="#FF0000" stroke="#FF0000" stroke-width="0.7">X</text>
<text x="920.25" y="702.20" font-size="25.60" textLength="14.89" lengthAdjust="spacingAndGlyphs" font-weight="bold" fill="#FF0000" stroke="#FF0000" stroke-width="0.7">X</text>
<rect x="551.00" y="711.35" width="46.00" height="35.30" fill="#F8CBAD"/>
<text x="567.28" y="739.35" font-size="25.60" textLength="14.26" lengthAdjust="spacingAndGlyphs" stroke="#F8CBAD" stroke-width="0.35">T</text>
<rect x="707.90" y="711.35" width="46.90" height="35.30" fill="#000"/>
<rect x="756.90" y="711.35" width="47.00" height="35.30" fill="#BFBFBF"/>
<text x="822.85" y="739.75" font-size="25.60" textLength="14.89" lengthAdjust="spacingAndGlyphs" font-weight="bold" fill="#FF0000" stroke="#FF0000" stroke-width="0.7">X</text>
<text x="871.50" y="739.75" font-size="25.60" textLength="14.89" lengthAdjust="spacingAndGlyphs" font-weight="bold" fill="#FF0000" stroke="#FF0000" stroke-width="0.7">X</text>
<text x="920.25" y="739.75" font-size="25.60" textLength="14.89" lengthAdjust="spacingAndGlyphs" font-weight="bold" fill="#FF0000" stroke="#FF0000" stroke-width="0.7">X</text>
<rect x="551.00" y="748.90" width="46.00" height="35.30" fill="#F8CBAD"/>
<text x="567.28" y="776.90" font-size="25.60" textLength="14.26" lengthAdjust="spacingAndGlyphs" stroke="#F8CBAD" stroke-width="0.35">T</text>
<rect x="707.90" y="748.90" width="46.90" height="35.30" fill="#000"/>
<text x="774.05" y="777.30" font-size="25.60" textLength="14.89" lengthAdjust="spacingAndGlyphs" font-weight="bold" fill="#FF0000" stroke="#FF0000" stroke-width="0.7">X</text>
<text x="822.85" y="777.30" font-size="25.60" textLength="14.89" lengthAdjust="spacingAndGlyphs" font-weight="bold" fill="#FF0000" stroke="#FF0000" stroke-width="0.7">X</text>
<text x="871.50" y="777.30" font-size="25.60" textLength="14.89" lengthAdjust="spacingAndGlyphs" font-weight="bold" fill="#FF0000" stroke="#FF0000" stroke-width="0.7">X</text>
<text x="920.25" y="777.30" font-size="25.60" textLength="14.89" lengthAdjust="spacingAndGlyphs" font-weight="bold" fill="#FF0000" stroke="#FF0000" stroke-width="0.7">X</text>
<rect x="551.00" y="786.45" width="46.00" height="35.30" fill="#F8CBAD"/>
<text x="567.28" y="814.45" font-size="25.60" textLength="14.26" lengthAdjust="spacingAndGlyphs" stroke="#F8CBAD" stroke-width="0.35">T</text>
<rect x="707.90" y="786.45" width="46.90" height="35.30" fill="#000"/>
<text x="774.05" y="814.85" font-size="25.60" textLength="14.89" lengthAdjust="spacingAndGlyphs" font-weight="bold" fill="#FF0000" stroke="#FF0000" stroke-width="0.7">X</text>
<text x="822.85" y="814.85" font-size="25.60" textLength="14.89" lengthAdjust="spacingAndGlyphs" font-weight="bold" fill="#FF0000" stroke="#FF0000" stroke-width="0.7">X</text>
<text x="871.50" y="814.85" font-size="25.60" textLength="14.89" lengthAdjust="spacingAndGlyphs" font-weight="bold" fill="#FF0000" stroke="#FF0000" stroke-width="0.7">X</text>
<text x="920.25" y="814.85" font-size="25.60" textLength="14.89" lengthAdjust="spacingAndGlyphs" font-weight="bold" fill="#FF0000" stroke="#FF0000" stroke-width="0.7">X</text>
<rect x="551.00" y="824.00" width="46.00" height="35.30" fill="#C5E0B4"/>
<text x="565.21" y="852.00" font-size="25.60" textLength="18.35" lengthAdjust="spacingAndGlyphs" stroke="#C5E0B4" stroke-width="0.35">G</text>
<rect x="707.90" y="824.00" width="46.90" height="35.30" fill="#000"/>
<rect x="756.90" y="824.00" width="47.00" height="35.30" fill="#BFBFBF"/>
<text x="822.85" y="852.40" font-size="25.60" textLength="14.89" lengthAdjust="spacingAndGlyphs" font-weight="bold" fill="#FF0000" stroke="#FF0000" stroke-width="0.7">X</text>
<text x="871.50" y="852.40" font-size="25.60" textLength="14.89" lengthAdjust="spacingAndGlyphs" font-weight="bold" fill="#FF0000" stroke="#FF0000" stroke-width="0.7">X</text>
<text x="920.25" y="852.40" font-size="25.60" textLength="14.89" lengthAdjust="spacingAndGlyphs" font-weight="bold" fill="#FF0000" stroke="#FF0000" stroke-width="0.7">X</text>
<rect x="551.00" y="861.55" width="46.00" height="35.30" fill="#C5E0B4"/>
<text x="565.21" y="889.55" font-size="25.60" textLength="18.35" lengthAdjust="spacingAndGlyphs" stroke="#C5E0B4" stroke-width="0.35">G</text>
<rect x="599.50" y="861.55" width="46.50" height="35.30" fill="#BDD7EE"/>
<text x="606.57" y="889.55" font-size="25.60" textLength="31.37" lengthAdjust="spacingAndGlyphs" stroke="#BDD7EE" stroke-width="0.35">NF</text>
<rect x="648.00" y="861.55" width="47.00" height="35.30" fill="#FFE699"/>
<text x="660.47" y="889.55" font-size="25.60" textLength="21.95" lengthAdjust="spacingAndGlyphs" stroke="#FFE699" stroke-width="0.35">IT</text>
<rect x="707.90" y="861.55" width="46.90" height="35.30" fill="#000"/>
<rect x="756.90" y="861.55" width="47.00" height="35.30" fill="#000"/>
<rect x="806.00" y="861.55" width="46.40" height="35.30" fill="#000"/>
<rect x="854.70" y="861.55" width="46.30" height="35.30" fill="#000"/>
<rect x="903.20" y="861.55" width="46.80" height="35.30" fill="#000"/>
<rect x="551.00" y="899.10" width="46.00" height="35.30" fill="#C5E0B4"/>
<text x="565.21" y="927.10" font-size="25.60" textLength="18.35" lengthAdjust="spacingAndGlyphs" stroke="#C5E0B4" stroke-width="0.35">G</text>
<rect x="599.50" y="899.10" width="46.50" height="35.30" fill="#BDD7EE"/>
<text x="606.57" y="927.10" font-size="25.60" textLength="31.37" lengthAdjust="spacingAndGlyphs" stroke="#BDD7EE" stroke-width="0.35">NF</text>
<rect x="648.00" y="899.10" width="47.00" height="35.30" fill="#FFE699"/>
<text x="660.47" y="927.10" font-size="25.60" textLength="21.95" lengthAdjust="spacingAndGlyphs" stroke="#FFE699" stroke-width="0.35">IT</text>
<rect x="707.90" y="899.10" width="46.90" height="35.30" fill="#000"/>
<rect x="756.90" y="899.10" width="47.00" height="35.30" fill="#000"/>
<rect x="806.00" y="899.10" width="46.40" height="35.30" fill="#000"/>
<rect x="854.70" y="899.10" width="46.30" height="35.30" fill="#000"/>
<rect x="903.20" y="899.10" width="46.80" height="35.30" fill="#000"/>
<rect x="551.00" y="936.65" width="46.00" height="35.30" fill="#C5E0B4"/>
<text x="565.21" y="964.65" font-size="25.60" textLength="18.35" lengthAdjust="spacingAndGlyphs" stroke="#C5E0B4" stroke-width="0.35">G</text>
<rect x="599.50" y="936.65" width="46.50" height="35.30" fill="#BDD7EE"/>
<text x="606.57" y="964.65" font-size="25.60" textLength="31.37" lengthAdjust="spacingAndGlyphs" stroke="#BDD7EE" stroke-width="0.35">NF</text>
<rect x="648.00" y="936.65" width="47.00" height="35.30" fill="#FFE699"/>
<text x="660.47" y="964.65" font-size="25.60" textLength="21.95" lengthAdjust="spacingAndGlyphs" stroke="#FFE699" stroke-width="0.35">IT</text>
<rect x="707.90" y="936.65" width="46.90" height="35.30" fill="#000"/>
<rect x="756.90" y="936.65" width="47.00" height="35.30" fill="#000"/>
<rect x="806.00" y="936.65" width="46.40" height="35.30" fill="#000"/>
<rect x="854.70" y="936.65" width="46.30" height="35.30" fill="#000"/>
<rect x="903.20" y="936.65" width="46.80" height="35.30" fill="#000"/>
<rect x="551.00" y="974.20" width="46.00" height="35.30" fill="#C5E0B4"/>
<text x="565.21" y="1002.20" font-size="25.60" textLength="18.35" lengthAdjust="spacingAndGlyphs" stroke="#C5E0B4" stroke-width="0.35">G</text>
<rect x="599.50" y="974.20" width="46.50" height="35.30" fill="#BDD7EE"/>
<text x="606.57" y="1002.20" font-size="25.60" textLength="31.37" lengthAdjust="spacingAndGlyphs" stroke="#BDD7EE" stroke-width="0.35">NF</text>
<rect x="648.00" y="974.20" width="47.00" height="35.30" fill="#FFE699"/>
<text x="660.47" y="1002.20" font-size="25.60" textLength="21.95" lengthAdjust="spacingAndGlyphs" stroke="#FFE699" stroke-width="0.35">IT</text>
<rect x="707.90" y="974.20" width="46.90" height="35.30" fill="#000"/>
<rect x="756.90" y="974.20" width="47.00" height="35.30" fill="#000"/>
<rect x="806.00" y="974.20" width="46.40" height="35.30" fill="#000"/>
<rect x="854.70" y="974.20" width="46.30" height="35.30" fill="#000"/>
<rect x="903.20" y="974.20" width="46.80" height="35.30" fill="#000"/>
<rect x="551.00" y="1011.75" width="46.00" height="35.30" fill="#C5E0B4"/>
<text x="565.21" y="1039.75" font-size="25.60" textLength="18.35" lengthAdjust="spacingAndGlyphs" stroke="#C5E0B4" stroke-width="0.35">G</text>
<rect x="599.50" y="1011.75" width="46.50" height="35.30" fill="#BDD7EE"/>
<text x="606.57" y="1039.75" font-size="25.60" textLength="31.37" lengthAdjust="spacingAndGlyphs" stroke="#BDD7EE" stroke-width="0.35">NF</text>
<rect x="648.00" y="1011.75" width="47.00" height="35.30" fill="#FFE699"/>
<text x="660.47" y="1039.75" font-size="25.60" textLength="21.95" lengthAdjust="spacingAndGlyphs" stroke="#FFE699" stroke-width="0.35">IT</text>
<rect x="707.90" y="1011.75" width="46.90" height="35.30" fill="#000"/>
<rect x="756.90" y="1011.75" width="47.00" height="35.30" fill="#000"/>
<rect x="806.00" y="1011.75" width="46.40" height="35.30" fill="#000"/>
<rect x="854.70" y="1011.75" width="46.30" height="35.30" fill="#000"/>
<rect x="903.20" y="1011.75" width="46.80" height="35.30" fill="#000"/>
<rect x="551.00" y="1049.30" width="46.00" height="35.30" fill="#C5E0B4"/>
<text x="565.21" y="1077.30" font-size="25.60" textLength="18.35" lengthAdjust="spacingAndGlyphs" stroke="#C5E0B4" stroke-width="0.35">G</text>
<rect x="599.50" y="1049.30" width="46.50" height="35.30" fill="#BDD7EE"/>
<text x="606.57" y="1077.30" font-size="25.60" textLength="31.37" lengthAdjust="spacingAndGlyphs" stroke="#BDD7EE" stroke-width="0.35">NF</text>
<rect x="648.00" y="1049.30" width="47.00" height="35.30" fill="#FFE699"/>
<text x="660.47" y="1077.30" font-size="25.60" textLength="21.95" lengthAdjust="spacingAndGlyphs" stroke="#FFE699" stroke-width="0.35">IT</text>
<rect x="707.90" y="1049.30" width="46.90" height="35.30" fill="#000"/>
<rect x="756.90" y="1049.30" width="47.00" height="35.30" fill="#000"/>
<rect x="806.00" y="1049.30" width="46.40" height="35.30" fill="#000"/>
<rect x="854.70" y="1049.30" width="46.30" height="35.30" fill="#000"/>
<rect x="903.20" y="1049.30" width="46.80" height="35.30" fill="#000"/>
<rect x="551.00" y="1086.85" width="46.00" height="35.30" fill="#C5E0B4"/>
<text x="565.21" y="1114.85" font-size="25.60" textLength="18.35" lengthAdjust="spacingAndGlyphs" stroke="#C5E0B4" stroke-width="0.35">G</text>
<rect x="599.50" y="1086.85" width="46.50" height="35.30" fill="#BDD7EE"/>
<text x="606.57" y="1114.85" font-size="25.60" textLength="31.37" lengthAdjust="spacingAndGlyphs" stroke="#BDD7EE" stroke-width="0.35">NF</text>
<rect x="648.00" y="1086.85" width="47.00" height="35.30" fill="#FFE699"/>
<text x="660.47" y="1114.85" font-size="25.60" textLength="21.95" lengthAdjust="spacingAndGlyphs" stroke="#FFE699" stroke-width="0.35">IT</text>
<rect x="707.90" y="1086.85" width="46.90" height="35.30" fill="#000"/>
<rect x="756.90" y="1086.85" width="47.00" height="35.30" fill="#000"/>
<rect x="806.00" y="1086.85" width="46.40" height="35.30" fill="#000"/>
<rect x="854.70" y="1086.85" width="46.30" height="35.30" fill="#000"/>
<rect x="903.20" y="1086.85" width="46.80" height="35.30" fill="#000"/>
<text x="1001.07" y="288.95" font-size="25.60" textLength="51.42" lengthAdjust="spacingAndGlyphs" stroke="#fff" stroke-width="0.35">Yes*</text>
<text x="1001.07" y="1039.95" font-size="25.60" textLength="51.42" lengthAdjust="spacingAndGlyphs" stroke="#fff" stroke-width="0.35">Yes*</text>
<text x="1001.07" y="1115.05" font-size="25.60" textLength="51.42" lengthAdjust="spacingAndGlyphs" stroke="#fff" stroke-width="0.35">Yes*</text>
<text x="1010.01" y="364.05" font-size="25.60" textLength="34.11" lengthAdjust="spacingAndGlyphs" stroke="#fff" stroke-width="0.35">No</text>
<text x="1010.01" y="439.15" font-size="25.60" textLength="34.11" lengthAdjust="spacingAndGlyphs" stroke="#fff" stroke-width="0.35">No</text>
<text x="1010.01" y="476.70" font-size="25.60" textLength="34.11" lengthAdjust="spacingAndGlyphs" stroke="#fff" stroke-width="0.35">No</text>
<text x="1008.40" y="514.25" font-size="25.60" textLength="39.02" lengthAdjust="spacingAndGlyphs" stroke="#fff" stroke-width="0.35">Yes</text>
<text x="1008.40" y="589.35" font-size="25.60" textLength="39.02" lengthAdjust="spacingAndGlyphs" stroke="#fff" stroke-width="0.35">Yes</text>
<text x="1008.40" y="626.90" font-size="25.60" textLength="39.02" lengthAdjust="spacingAndGlyphs" stroke="#fff" stroke-width="0.35">Yes</text>
<text x="1008.40" y="702.00" font-size="25.60" textLength="39.02" lengthAdjust="spacingAndGlyphs" stroke="#fff" stroke-width="0.35">Yes</text>
<text x="1008.40" y="852.20" font-size="25.60" textLength="39.02" lengthAdjust="spacingAndGlyphs" stroke="#fff" stroke-width="0.35">Yes</text>
<rect x="1127.00" y="786.45" width="46.50" height="35.30" fill="#C5E0B4"/>
<text x="1141.61" y="814.45" font-size="25.60" textLength="18.35" lengthAdjust="spacingAndGlyphs" stroke="#C5E0B4" stroke-width="0.35">G</text>
<text x="1178.71" y="814.65" font-size="25.60" textLength="98.74" lengthAdjust="spacingAndGlyphs" stroke="#fff" stroke-width="0.35">Genome</text>
<rect x="1127.00" y="824.00" width="46.50" height="35.30" fill="#F8CBAD"/>
<text x="1143.38" y="852.00" font-size="25.60" textLength="14.26" lengthAdjust="spacingAndGlyphs" stroke="#F8CBAD" stroke-width="0.35">T</text>
<text x="1179.42" y="852.20" font-size="25.60" textLength="165.63" lengthAdjust="spacingAndGlyphs" stroke="#fff" stroke-width="0.35">Transcriptome</text>
<rect x="1127.00" y="899.10" width="46.50" height="35.30" fill="#BDD7EE"/>
<text x="1134.32" y="927.10" font-size="25.60" textLength="31.37" lengthAdjust="spacingAndGlyphs" stroke="#BDD7EE" stroke-width="0.35">NF</text>
<text x="1177.81" y="927.30" font-size="25.60" textLength="256.99" lengthAdjust="spacingAndGlyphs" stroke="#fff" stroke-width="0.35">Nod factor dependent</text>
<rect x="1127.00" y="936.65" width="46.50" height="35.30" fill="#FFE699"/>
<text x="1139.17" y="964.65" font-size="25.60" textLength="21.95" lengthAdjust="spacingAndGlyphs" stroke="#FFE699" stroke-width="0.35">IT</text>
<text x="1177.49" y="964.85" font-size="25.60" textLength="308.27" lengthAdjust="spacingAndGlyphs" stroke="#fff" stroke-width="0.35">Infection thread formation</text>
<rect x="1127.00" y="1011.75" width="46.50" height="35.30" fill="#000"/>
<text x="1178.65" y="1039.95" font-size="25.60" textLength="114.04" lengthAdjust="spacingAndGlyphs" stroke="#fff" stroke-width="0.35">Complete</text>
<rect x="1127.00" y="1049.30" width="46.50" height="35.30" fill="#BFBFBF"/>
<text x="1177.83" y="1077.50" font-size="25.60" textLength="142.57" lengthAdjust="spacingAndGlyphs" stroke="#fff" stroke-width="0.35">Fragmented</text>
<text x="1144.01" y="1115.25" font-size="25.60" textLength="14.79" lengthAdjust="spacingAndGlyphs" font-weight="bold" fill="#FF0000" stroke="#FF0000" stroke-width="0.7">X</text>
<text x="1177.75" y="1115.05" font-size="25.60" textLength="155.31" lengthAdjust="spacingAndGlyphs" stroke="#fff" stroke-width="0.35">Not detected</text>
<text x="14.37" y="1170.40" font-size="37.50" textLength="22.55" lengthAdjust="spacingAndGlyphs" font-weight="bold">b</text>
<line x1="126.20" y1="1471.00" x2="482.00" y2="1471.00" stroke="#D9D9D9" stroke-width="2.0"/>
<line x1="126.20" y1="1419.46" x2="482.00" y2="1419.46" stroke="#D9D9D9" stroke-width="2.0"/>
<line x1="126.20" y1="1367.92" x2="482.00" y2="1367.92" stroke="#D9D9D9" stroke-width="2.0"/>
<line x1="126.20" y1="1316.38" x2="482.00" y2="1316.38" stroke="#D9D9D9" stroke-width="2.0"/>
<line x1="126.20" y1="1264.84" x2="482.00" y2="1264.84" stroke="#D9D9D9" stroke-width="2.0"/>
<line x1="126.20" y1="1213.30" x2="482.00" y2="1213.30" stroke="#D9D9D9" stroke-width="2.0"/>
<text x="87.47" y="1478.70" font-size="25.20" textLength="14.02" lengthAdjust="spacingAndGlyphs" stroke="#fff" stroke-width="0.35">0</text>
<text x="73.45" y="1427.16" font-size="25.20" textLength="28.03" lengthAdjust="spacingAndGlyphs" stroke="#fff" stroke-width="0.35">20</text>
<text x="73.45" y="1375.62" font-size="25.20" textLength="28.03" lengthAdjust="spacingAndGlyphs" stroke="#fff" stroke-width="0.35">40</text>
<text x="73.45" y="1324.08" font-size="25.20" textLength="28.03" lengthAdjust="spacingAndGlyphs" stroke="#fff" stroke-width="0.35">60</text>
<text x="73.45" y="1272.54" font-size="25.20" textLength="28.03" lengthAdjust="spacingAndGlyphs" stroke="#fff" stroke-width="0.35">80</text>
<text x="59.44" y="1221.00" font-size="25.20" textLength="42.05" lengthAdjust="spacingAndGlyphs" stroke="#fff" stroke-width="0.35">100</text>
<text x="-1.58" y="0" font-size="24.70" textLength="280.06" lengthAdjust="spacingAndGlyphs" transform="translate(41.80,1479.20) rotate(-90)" font-weight="bold">Distribution of nuclei (%)</text>
<text x="175.70" y="1194.60" font-size="30.00" textLength="252.66" lengthAdjust="spacingAndGlyphs" font-weight="bold" font-style="italic">Arachis hypogaea</text>
<rect x="148.75" y="1250.67" width="33.50" height="219.33" fill="#9DC3E6"/>
<path d="M150.00,1470.00V1250.67H181.00V1470.00" fill="none" stroke="#000" stroke-width="2.5" stroke-linejoin="miter"/>
<line x1="165.50" y1="1244.74" x2="165.50" y2="1256.59" stroke="#595959" stroke-width="2.4"/>
<line x1="157.80" y1="1244.74" x2="173.20" y2="1244.74" stroke="#595959" stroke-width="2.6"/>
<line x1="157.80" y1="1256.59" x2="173.20" y2="1256.59" stroke="#595959" stroke-width="2.6"/>
<rect x="188.75" y="1222.32" width="33.50" height="247.68" fill="#F4B183"/>
<path d="M190.00,1470.00V1222.32H221.00V1470.00" fill="none" stroke="#000" stroke-width="2.5" stroke-linejoin="miter"/>
<line x1="205.50" y1="1217.42" x2="205.50" y2="1227.22" stroke="#595959" stroke-width="2.4"/>
<line x1="197.80" y1="1217.42" x2="213.20" y2="1217.42" stroke="#595959" stroke-width="2.6"/>
<line x1="197.80" y1="1227.22" x2="213.20" y2="1227.22" stroke="#595959" stroke-width="2.6"/>
<text x="170.75" y="1515.00" font-size="25.40" textLength="29.22" lengthAdjust="spacingAndGlyphs" stroke="#fff" stroke-width="0.35">2C</text>
<rect x="267.35" y="1436.21" width="33.50" height="33.79" fill="#9DC3E6"/>
<path d="M268.60,1470.00V1436.21H299.60V1470.00" fill="none" stroke="#000" stroke-width="2.5" stroke-linejoin="miter"/>
<line x1="284.10" y1="1427.45" x2="284.10" y2="1444.97" stroke="#595959" stroke-width="2.4"/>
<line x1="276.40" y1="1427.45" x2="291.80" y2="1427.45" stroke="#595959" stroke-width="2.6"/>
<line x1="276.40" y1="1444.97" x2="291.80" y2="1444.97" stroke="#595959" stroke-width="2.6"/>
<rect x="307.35" y="1462.24" width="33.50" height="7.76" fill="#F4B183"/>
<path d="M308.60,1470.00V1462.24H339.60V1470.00" fill="none" stroke="#000" stroke-width="2.5" stroke-linejoin="miter"/>
<line x1="324.10" y1="1457.34" x2="324.10" y2="1467.13" stroke="#595959" stroke-width="2.4"/>
<line x1="316.40" y1="1457.34" x2="331.80" y2="1457.34" stroke="#595959" stroke-width="2.6"/>
<line x1="316.40" y1="1467.13" x2="331.80" y2="1467.13" stroke="#595959" stroke-width="2.6"/>
<text x="289.99" y="1515.00" font-size="25.40" textLength="28.56" lengthAdjust="spacingAndGlyphs" stroke="#fff" stroke-width="0.35">4C</text>
<rect x="385.95" y="1467.50" width="33.50" height="2.50" fill="#9DC3E6"/>
<path d="M387.20,1470.00V1467.50H418.20V1470.00" fill="none" stroke="#000" stroke-width="2.5" stroke-linejoin="miter"/>
<line x1="402.70" y1="1466.10" x2="402.70" y2="1469.20" stroke="#595959" stroke-width="2.4"/>
<line x1="395.00" y1="1466.10" x2="410.40" y2="1466.10" stroke="#595959" stroke-width="2.6"/>
<line x1="395.00" y1="1469.20" x2="410.40" y2="1469.20" stroke="#595959" stroke-width="2.6"/>
<line x1="426.95" y1="1469.80" x2="458.45" y2="1469.80" stroke="#a6a6a6" stroke-width="1.6"/>
<text x="408.11" y="1515.00" font-size="25.40" textLength="29.05" lengthAdjust="spacingAndGlyphs" stroke="#fff" stroke-width="0.35">8C</text>
<rect x="365.75" y="1239.15" width="14.80" height="14.80" fill="#9DC3E6" stroke="#000" stroke-width="2.5"/>
<text x="387.38" y="1254.50" font-size="24.70" textLength="51.90" lengthAdjust="spacingAndGlyphs" stroke="#fff" stroke-width="0.35">Root</text>
<rect x="365.75" y="1273.55" width="14.80" height="14.80" fill="#F4B183" stroke="#000" stroke-width="2.5"/>
<text x="387.33" y="1288.50" font-size="24.70" textLength="79.99" lengthAdjust="spacingAndGlyphs" stroke="#fff" stroke-width="0.35">Nodule</text>
<line x1="608.50" y1="1470.40" x2="978.40" y2="1470.40" stroke="#D9D9D9" stroke-width="2.0"/>
<line x1="608.50" y1="1418.44" x2="978.40" y2="1418.44" stroke="#D9D9D9" stroke-width="2.0"/>
<line x1="608.50" y1="1366.48" x2="978.40" y2="1366.48" stroke="#D9D9D9" stroke-width="2.0"/>
<line x1="608.50" y1="1314.52" x2="978.40" y2="1314.52" stroke="#D9D9D9" stroke-width="2.0"/>
<line x1="608.50" y1="1262.56" x2="978.40" y2="1262.56" stroke="#D9D9D9" stroke-width="2.0"/>
<line x1="608.50" y1="1210.60" x2="978.40" y2="1210.60" stroke="#D9D9D9" stroke-width="2.0"/>
<text x="569.97" y="1478.10" font-size="25.20" textLength="14.02" lengthAdjust="spacingAndGlyphs" stroke="#fff" stroke-width="0.35">0</text>
<text x="555.95" y="1426.14" font-size="25.20" textLength="28.03" lengthAdjust="spacingAndGlyphs" stroke="#fff" stroke-width="0.35">20</text>
<text x="555.95" y="1374.18" font-size="25.20" textLength="28.03" lengthAdjust="spacingAndGlyphs" stroke="#fff" stroke-width="0.35">40</text>
<text x="555.95" y="1322.22" font-size="25.20" textLength="28.03" lengthAdjust="spacingAndGlyphs" stroke="#fff" stroke-width="0.35">60</text>
<text x="555.95" y="1270.26" font-size="25.20" textLength="28.03" lengthAdjust="spacingAndGlyphs" stroke="#fff" stroke-width="0.35">80</text>
<text x="541.94" y="1218.30" font-size="25.20" textLength="42.05" lengthAdjust="spacingAndGlyphs" stroke="#fff" stroke-width="0.35">100</text>
<text x="-1.59" y="0" font-size="24.70" textLength="281.07" lengthAdjust="spacingAndGlyphs" transform="translate(530.20,1483.90) rotate(-90)" font-weight="bold">Distribution of nuclei (%)</text>
<text x="644.20" y="1192.70" font-size="30.00" textLength="285.50" lengthAdjust="spacingAndGlyphs" font-weight="bold" font-style="italic">A. tambacoundensis</text>
<rect x="637.85" y="1243.33" width="29.50" height="226.07" fill="#9DC3E6"/>
<path d="M639.10,1469.40V1243.33H666.10V1469.40" fill="none" stroke="#000" stroke-width="2.5" stroke-linejoin="miter"/>
<line x1="652.60" y1="1234.50" x2="652.60" y2="1252.17" stroke="#595959" stroke-width="2.4"/>
<line x1="645.00" y1="1234.50" x2="660.20" y2="1234.50" stroke="#595959" stroke-width="2.6"/>
<line x1="645.00" y1="1252.17" x2="660.20" y2="1252.17" stroke="#595959" stroke-width="2.6"/>
<rect x="672.95" y="1242.04" width="29.50" height="227.36" fill="#F4B183"/>
<path d="M674.20,1469.40V1242.04H701.20V1469.40" fill="none" stroke="#000" stroke-width="2.5" stroke-linejoin="miter"/>
<line x1="687.70" y1="1234.24" x2="687.70" y2="1249.83" stroke="#595959" stroke-width="2.4"/>
<line x1="680.10" y1="1234.24" x2="695.30" y2="1234.24" stroke="#595959" stroke-width="2.6"/>
<line x1="680.10" y1="1249.83" x2="695.30" y2="1249.83" stroke="#595959" stroke-width="2.6"/>
<text x="655.40" y="1514.40" font-size="25.40" textLength="29.22" lengthAdjust="spacingAndGlyphs" stroke="#fff" stroke-width="0.35">2C</text>
<rect x="761.15" y="1440.52" width="29.50" height="28.88" fill="#9DC3E6"/>
<path d="M762.40,1469.40V1440.52H789.40V1469.40" fill="none" stroke="#000" stroke-width="2.5" stroke-linejoin="miter"/>
<line x1="775.90" y1="1433.51" x2="775.90" y2="1447.54" stroke="#595959" stroke-width="2.4"/>
<line x1="768.30" y1="1433.51" x2="783.50" y2="1433.51" stroke="#595959" stroke-width="2.6"/>
<line x1="768.30" y1="1447.54" x2="783.50" y2="1447.54" stroke="#595959" stroke-width="2.6"/>
<rect x="796.25" y="1441.30" width="29.50" height="28.10" fill="#F4B183"/>
<path d="M797.50,1469.40V1441.30H824.50V1469.40" fill="none" stroke="#000" stroke-width="2.5" stroke-linejoin="miter"/>
<line x1="811.00" y1="1435.33" x2="811.00" y2="1447.28" stroke="#595959" stroke-width="2.4"/>
<line x1="803.40" y1="1435.33" x2="818.60" y2="1435.33" stroke="#595959" stroke-width="2.6"/>
<line x1="803.40" y1="1447.28" x2="818.60" y2="1447.28" stroke="#595959" stroke-width="2.6"/>
<text x="779.34" y="1514.40" font-size="25.40" textLength="28.56" lengthAdjust="spacingAndGlyphs" stroke="#fff" stroke-width="0.35">4C</text>
<rect x="884.45" y="1466.76" width="29.50" height="2.64" fill="#9DC3E6"/>
<path d="M885.70,1469.40V1466.76H912.70V1469.40" fill="none" stroke="#000" stroke-width="2.5" stroke-linejoin="miter"/>
<line x1="899.20" y1="1465.72" x2="899.20" y2="1467.80" stroke="#595959" stroke-width="2.4"/>
<line x1="891.60" y1="1465.72" x2="906.80" y2="1465.72" stroke="#595959" stroke-width="2.6"/>
<line x1="891.60" y1="1467.80" x2="906.80" y2="1467.80" stroke="#595959" stroke-width="2.6"/>
<rect x="919.55" y="1466.90" width="29.50" height="2.50" fill="#F4B183"/>
<path d="M920.80,1469.40V1466.90H947.80V1469.40" fill="none" stroke="#000" stroke-width="2.5" stroke-linejoin="miter"/>
<line x1="934.30" y1="1465.72" x2="934.30" y2="1468.32" stroke="#595959" stroke-width="2.4"/>
<line x1="926.70" y1="1465.72" x2="941.90" y2="1465.72" stroke="#595959" stroke-width="2.6"/>
<line x1="926.70" y1="1468.32" x2="941.90" y2="1468.32" stroke="#595959" stroke-width="2.6"/>
<text x="902.16" y="1514.40" font-size="25.40" textLength="29.05" lengthAdjust="spacingAndGlyphs" stroke="#fff" stroke-width="0.35">8C</text>
<rect x="852.75" y="1237.55" width="14.80" height="14.80" fill="#9DC3E6" stroke="#000" stroke-width="2.5"/>
<text x="873.67" y="1253.00" font-size="24.70" textLength="52.31" lengthAdjust="spacingAndGlyphs" stroke="#fff" stroke-width="0.35">Root</text>
<rect x="852.75" y="1276.15" width="14.80" height="14.80" fill="#F4B183" stroke="#000" stroke-width="2.5"/>
<text x="873.62" y="1291.00" font-size="24.70" textLength="80.41" lengthAdjust="spacingAndGlyphs" stroke="#fff" stroke-width="0.35">Nodule</text>
<line x1="1105.80" y1="1470.60" x2="1472.70" y2="1470.60" stroke="#D9D9D9" stroke-width="2.0"/>
<line x1="1105.80" y1="1418.66" x2="1472.70" y2="1418.66" stroke="#D9D9D9" stroke-width="2.0"/>
<line x1="1105.80" y1="1366.72" x2="1472.70" y2="1366.72" stroke="#D9D9D9" stroke-width="2.0"/>
<line x1="1105.80" y1="1314.78" x2="1472.70" y2="1314.78" stroke="#D9D9D9" stroke-width="2.0"/>
<line x1="1105.80" y1="1262.84" x2="1472.70" y2="1262.84" stroke="#D9D9D9" stroke-width="2.0"/>
<line x1="1105.80" y1="1210.90" x2="1472.70" y2="1210.90" stroke="#D9D9D9" stroke-width="2.0"/>
<text x="1066.87" y="1478.30" font-size="25.20" textLength="14.02" lengthAdjust="spacingAndGlyphs" stroke="#fff" stroke-width="0.35">0</text>
<text x="1052.85" y="1426.36" font-size="25.20" textLength="28.03" lengthAdjust="spacingAndGlyphs" stroke="#fff" stroke-width="0.35">20</text>
<text x="1052.85" y="1374.42" font-size="25.20" textLength="28.03" lengthAdjust="spacingAndGlyphs" stroke="#fff" stroke-width="0.35">40</text>
<text x="1052.85" y="1322.48" font-size="25.20" textLength="28.03" lengthAdjust="spacingAndGlyphs" stroke="#fff" stroke-width="0.35">60</text>
<text x="1052.85" y="1270.54" font-size="25.20" textLength="28.03" lengthAdjust="spacingAndGlyphs" stroke="#fff" stroke-width="0.35">80</text>
<text x="1038.84" y="1218.60" font-size="25.20" textLength="42.05" lengthAdjust="spacingAndGlyphs" stroke="#fff" stroke-width="0.35">100</text>
<text x="-1.59" y="0" font-size="24.70" textLength="280.77" lengthAdjust="spacingAndGlyphs" transform="translate(1023.60,1484.60) rotate(-90)" font-weight="bold">Distribution of nuclei (%)</text>
<text x="1203.59" y="1191.60" font-size="30.00" textLength="111.85" lengthAdjust="spacingAndGlyphs" font-weight="bold" font-style="italic">A. filosa</text>
<rect x="1134.90" y="1239.99" width="29.50" height="229.61" fill="#9DC3E6"/>
<path d="M1136.15,1469.60V1239.99H1163.15V1469.60" fill="none" stroke="#000" stroke-width="2.5" stroke-linejoin="miter"/>
<line x1="1149.65" y1="1226.74" x2="1149.65" y2="1253.23" stroke="#595959" stroke-width="2.4"/>
<line x1="1142.05" y1="1226.74" x2="1157.25" y2="1226.74" stroke="#595959" stroke-width="2.6"/>
<line x1="1142.05" y1="1253.23" x2="1157.25" y2="1253.23" stroke="#595959" stroke-width="2.6"/>
<rect x="1169.50" y="1239.99" width="29.50" height="229.61" fill="#F4B183"/>
<path d="M1170.75,1469.60V1239.99H1197.75V1469.60" fill="none" stroke="#000" stroke-width="2.5" stroke-linejoin="miter"/>
<line x1="1184.25" y1="1218.43" x2="1184.25" y2="1261.54" stroke="#595959" stroke-width="2.4"/>
<line x1="1176.65" y1="1218.43" x2="1191.85" y2="1218.43" stroke="#595959" stroke-width="2.6"/>
<line x1="1176.65" y1="1261.54" x2="1191.85" y2="1261.54" stroke="#595959" stroke-width="2.6"/>
<text x="1152.20" y="1514.60" font-size="25.40" textLength="29.22" lengthAdjust="spacingAndGlyphs" stroke="#fff" stroke-width="0.35">2C</text>
<rect x="1257.20" y="1444.37" width="29.50" height="25.23" fill="#9DC3E6"/>
<path d="M1258.45,1469.60V1444.37H1285.45V1469.60" fill="none" stroke="#000" stroke-width="2.5" stroke-linejoin="miter"/>
<line x1="1271.95" y1="1433.98" x2="1271.95" y2="1454.76" stroke="#595959" stroke-width="2.4"/>
<line x1="1264.35" y1="1433.98" x2="1279.55" y2="1433.98" stroke="#595959" stroke-width="2.6"/>
<line x1="1264.35" y1="1454.76" x2="1279.55" y2="1454.76" stroke="#595959" stroke-width="2.6"/>
<rect x="1291.80" y="1443.59" width="29.50" height="26.01" fill="#F4B183"/>
<path d="M1293.05,1469.60V1443.59H1320.05V1469.60" fill="none" stroke="#000" stroke-width="2.5" stroke-linejoin="miter"/>
<line x1="1306.55" y1="1423.85" x2="1306.55" y2="1463.33" stroke="#595959" stroke-width="2.4"/>
<line x1="1298.95" y1="1423.85" x2="1314.15" y2="1423.85" stroke="#595959" stroke-width="2.6"/>
<line x1="1298.95" y1="1463.33" x2="1314.15" y2="1463.33" stroke="#595959" stroke-width="2.6"/>
<text x="1275.14" y="1514.60" font-size="25.40" textLength="28.56" lengthAdjust="spacingAndGlyphs" stroke="#fff" stroke-width="0.35">4C</text>
<rect x="1379.50" y="1467.10" width="29.50" height="2.50" fill="#9DC3E6"/>
<path d="M1380.75,1469.60V1467.10H1407.75V1469.60" fill="none" stroke="#000" stroke-width="2.5" stroke-linejoin="miter"/>
<line x1="1394.25" y1="1465.67" x2="1394.25" y2="1470.34" stroke="#595959" stroke-width="2.4"/>
<line x1="1386.65" y1="1465.67" x2="1401.85" y2="1465.67" stroke="#595959" stroke-width="2.6"/>
<line x1="1386.65" y1="1470.34" x2="1401.85" y2="1470.34" stroke="#595959" stroke-width="2.6"/>
<line x1="1414.10" y1="1468.90" x2="1443.60" y2="1468.90" stroke="#111" stroke-width="1.8"/>
<line x1="1428.85" y1="1467.74" x2="1428.85" y2="1470.34" stroke="#595959" stroke-width="2.4"/>
<line x1="1421.25" y1="1467.74" x2="1436.45" y2="1467.74" stroke="#595959" stroke-width="2.6"/>
<line x1="1421.25" y1="1470.34" x2="1436.45" y2="1470.34" stroke="#595959" stroke-width="2.6"/>
<text x="1396.96" y="1514.60" font-size="25.40" textLength="29.05" lengthAdjust="spacingAndGlyphs" stroke="#fff" stroke-width="0.35">8C</text>
<rect x="1355.55" y="1240.55" width="14.80" height="14.80" fill="#9DC3E6" stroke="#000" stroke-width="2.5"/>
<text x="1376.98" y="1255.60" font-size="24.70" textLength="51.90" lengthAdjust="spacingAndGlyphs" stroke="#fff" stroke-width="0.35">Root</text>
<rect x="1355.55" y="1274.65" width="14.80" height="14.80" fill="#F4B183" stroke="#000" stroke-width="2.5"/>
<text x="1376.93" y="1289.60" font-size="24.70" textLength="80.10" lengthAdjust="spacingAndGlyphs" stroke="#fff" stroke-width="0.35">Nodule</text>
<line x1="133.20" y1="1847.30" x2="735.30" y2="1847.30" stroke="#D9D9D9" stroke-width="2.0"/>
<line x1="133.20" y1="1793.98" x2="735.30" y2="1793.98" stroke="#D9D9D9" stroke-width="2.0"/>
<line x1="133.20" y1="1740.66" x2="735.30" y2="1740.66" stroke="#D9D9D9" stroke-width="2.0"/>
<line x1="133.20" y1="1687.34" x2="735.30" y2="1687.34" stroke="#D9D9D9" stroke-width="2.0"/>
<line x1="133.20" y1="1634.02" x2="735.30" y2="1634.02" stroke="#D9D9D9" stroke-width="2.0"/>
<line x1="133.20" y1="1580.70" x2="735.30" y2="1580.70" stroke="#D9D9D9" stroke-width="2.0"/>
<text x="93.27" y="1855.00" font-size="25.20" textLength="14.02" lengthAdjust="spacingAndGlyphs" stroke="#fff" stroke-width="0.35">0</text>
<text x="79.25" y="1801.68" font-size="25.20" textLength="28.03" lengthAdjust="spacingAndGlyphs" stroke="#fff" stroke-width="0.35">20</text>
<text x="79.25" y="1748.36" font-size="25.20" textLength="28.03" lengthAdjust="spacingAndGlyphs" stroke="#fff" stroke-width="0.35">40</text>
<text x="79.25" y="1695.04" font-size="25.20" textLength="28.03" lengthAdjust="spacingAndGlyphs" stroke="#fff" stroke-width="0.35">60</text>
<text x="79.25" y="1641.72" font-size="25.20" textLength="28.03" lengthAdjust="spacingAndGlyphs" stroke="#fff" stroke-width="0.35">80</text>
<text x="65.24" y="1588.40" font-size="25.20" textLength="42.05" lengthAdjust="spacingAndGlyphs" stroke="#fff" stroke-width="0.35">100</text>
<text x="-1.59" y="0" font-size="24.70" textLength="280.67" lengthAdjust="spacingAndGlyphs" transform="translate(44.80,1855.50) rotate(-90)" font-weight="bold">Distribution of nuclei (%)</text>
<text x="346.21" y="1561.00" font-size="30.00" textLength="133.27" lengthAdjust="spacingAndGlyphs" font-weight="bold" font-style="italic">A. deamii</text>
<rect x="159.11" y="1621.22" width="31.50" height="225.08" fill="#9DC3E6"/>
<path d="M160.36,1846.30V1621.22H189.36V1846.30" fill="none" stroke="#000" stroke-width="2.5" stroke-linejoin="miter"/>
<line x1="174.86" y1="1603.63" x2="174.86" y2="1638.82" stroke="#595959" stroke-width="2.4"/>
<line x1="167.26" y1="1603.63" x2="182.46" y2="1603.63" stroke="#595959" stroke-width="2.6"/>
<line x1="167.26" y1="1638.82" x2="182.46" y2="1638.82" stroke="#595959" stroke-width="2.6"/>
<rect x="196.21" y="1631.35" width="31.50" height="214.95" fill="#F4B183"/>
<path d="M197.46,1846.30V1631.35H226.46V1846.30" fill="none" stroke="#000" stroke-width="2.5" stroke-linejoin="miter"/>
<line x1="211.96" y1="1627.62" x2="211.96" y2="1635.09" stroke="#595959" stroke-width="2.4"/>
<line x1="204.36" y1="1627.62" x2="219.56" y2="1627.62" stroke="#595959" stroke-width="2.6"/>
<line x1="204.36" y1="1635.09" x2="219.56" y2="1635.09" stroke="#595959" stroke-width="2.6"/>
<text x="178.66" y="1891.30" font-size="25.40" textLength="29.22" lengthAdjust="spacingAndGlyphs" stroke="#fff" stroke-width="0.35">2C</text>
<rect x="279.53" y="1809.98" width="31.50" height="36.32" fill="#9DC3E6"/>
<path d="M280.78,1846.30V1809.98H309.78V1846.30" fill="none" stroke="#000" stroke-width="2.5" stroke-linejoin="miter"/>
<line x1="295.28" y1="1793.98" x2="295.28" y2="1825.97" stroke="#595959" stroke-width="2.4"/>
<line x1="287.68" y1="1793.98" x2="302.88" y2="1793.98" stroke="#595959" stroke-width="2.6"/>
<line x1="287.68" y1="1825.97" x2="302.88" y2="1825.97" stroke="#595959" stroke-width="2.6"/>
<rect x="316.63" y="1818.51" width="31.50" height="27.79" fill="#F4B183"/>
<path d="M317.88,1846.30V1818.51H346.88V1846.30" fill="none" stroke="#000" stroke-width="2.5" stroke-linejoin="miter"/>
<line x1="332.38" y1="1817.17" x2="332.38" y2="1819.84" stroke="#595959" stroke-width="2.4"/>
<line x1="324.78" y1="1817.17" x2="339.98" y2="1817.17" stroke="#595959" stroke-width="2.6"/>
<line x1="324.78" y1="1819.84" x2="339.98" y2="1819.84" stroke="#595959" stroke-width="2.6"/>
<text x="299.72" y="1891.30" font-size="25.40" textLength="28.56" lengthAdjust="spacingAndGlyphs" stroke="#fff" stroke-width="0.35">4C</text>
<rect x="399.95" y="1843.30" width="31.50" height="3.00" fill="#9DC3E6"/>
<path d="M401.20,1846.30V1843.30H430.20V1846.30" fill="none" stroke="#000" stroke-width="2.5" stroke-linejoin="miter"/>
<line x1="415.70" y1="1840.90" x2="415.70" y2="1845.70" stroke="#595959" stroke-width="2.4"/>
<line x1="408.10" y1="1840.90" x2="423.30" y2="1840.90" stroke="#595959" stroke-width="2.6"/>
<line x1="408.10" y1="1845.70" x2="423.30" y2="1845.70" stroke="#595959" stroke-width="2.6"/>
<rect x="437.05" y="1834.77" width="31.50" height="11.53" fill="#F4B183"/>
<path d="M438.30,1846.30V1834.77H467.30V1846.30" fill="none" stroke="#000" stroke-width="2.5" stroke-linejoin="miter"/>
<line x1="452.80" y1="1833.70" x2="452.80" y2="1835.84" stroke="#595959" stroke-width="2.4"/>
<line x1="445.20" y1="1833.70" x2="460.40" y2="1833.70" stroke="#595959" stroke-width="2.6"/>
<line x1="445.20" y1="1835.84" x2="460.40" y2="1835.84" stroke="#595959" stroke-width="2.6"/>
<text x="419.66" y="1891.30" font-size="25.40" textLength="29.05" lengthAdjust="spacingAndGlyphs" stroke="#fff" stroke-width="0.35">8C</text>
<rect x="557.47" y="1838.24" width="31.50" height="8.06" fill="#F4B183"/>
<path d="M558.72,1846.30V1838.24H587.72V1846.30" fill="none" stroke="#000" stroke-width="2.5" stroke-linejoin="miter"/>
<line x1="573.22" y1="1836.90" x2="573.22" y2="1839.57" stroke="#595959" stroke-width="2.4"/>
<line x1="565.62" y1="1836.90" x2="580.82" y2="1836.90" stroke="#595959" stroke-width="2.6"/>
<line x1="565.62" y1="1839.57" x2="580.82" y2="1839.57" stroke="#595959" stroke-width="2.6"/>
<text x="532.46" y="1891.30" font-size="25.40" textLength="43.51" lengthAdjust="spacingAndGlyphs" stroke="#fff" stroke-width="0.35">16C</text>
<line x1="677.89" y1="1845.60" x2="709.39" y2="1845.60" stroke="#111" stroke-width="1.8"/>
<text x="653.60" y="1891.30" font-size="25.40" textLength="42.98" lengthAdjust="spacingAndGlyphs" stroke="#fff" stroke-width="0.35">32C</text>
<rect x="613.15" y="1607.35" width="14.80" height="14.80" fill="#9DC3E6" stroke="#000" stroke-width="2.5"/>
<text x="634.08" y="1622.10" font-size="24.70" textLength="51.90" lengthAdjust="spacingAndGlyphs" stroke="#fff" stroke-width="0.35">Root</text>
<rect x="613.15" y="1643.35" width="14.80" height="14.80" fill="#F4B183" stroke="#000" stroke-width="2.5"/>
<text x="634.03" y="1658.20" font-size="24.70" textLength="79.99" lengthAdjust="spacingAndGlyphs" stroke="#fff" stroke-width="0.35">Nodule</text>
<line x1="985.20" y1="1852.90" x2="1465.30" y2="1852.90" stroke="#D9D9D9" stroke-width="2.0"/>
<line x1="985.20" y1="1799.90" x2="1465.30" y2="1799.90" stroke="#D9D9D9" stroke-width="2.0"/>
<line x1="985.20" y1="1746.90" x2="1465.30" y2="1746.90" stroke="#D9D9D9" stroke-width="2.0"/>
<line x1="985.20" y1="1693.90" x2="1465.30" y2="1693.90" stroke="#D9D9D9" stroke-width="2.0"/>
<line x1="985.20" y1="1640.90" x2="1465.30" y2="1640.90" stroke="#D9D9D9" stroke-width="2.0"/>
<line x1="985.20" y1="1587.90" x2="1465.30" y2="1587.90" stroke="#D9D9D9" stroke-width="2.0"/>
<text x="946.57" y="1860.60" font-size="25.20" textLength="14.02" lengthAdjust="spacingAndGlyphs" stroke="#fff" stroke-width="0.35">0</text>
<text x="932.55" y="1807.60" font-size="25.20" textLength="28.03" lengthAdjust="spacingAndGlyphs" stroke="#fff" stroke-width="0.35">20</text>
<text x="932.55" y="1754.60" font-size="25.20" textLength="28.03" lengthAdjust="spacingAndGlyphs" stroke="#fff" stroke-width="0.35">40</text>
<text x="932.55" y="1701.60" font-size="25.20" textLength="28.03" lengthAdjust="spacingAndGlyphs" stroke="#fff" stroke-width="0.35">60</text>
<text x="932.55" y="1648.60" font-size="25.20" textLength="28.03" lengthAdjust="spacingAndGlyphs" stroke="#fff" stroke-width="0.35">80</text>
<text x="918.54" y="1595.60" font-size="25.20" textLength="42.05" lengthAdjust="spacingAndGlyphs" stroke="#fff" stroke-width="0.35">100</text>
<text x="-1.59" y="0" font-size="24.70" textLength="280.57" lengthAdjust="spacingAndGlyphs" transform="translate(900.00,1859.30) rotate(-90)" font-weight="bold">Distribution of nuclei (%)</text>
<text x="1076.69" y="1565.80" font-size="30.00" textLength="312.65" lengthAdjust="spacingAndGlyphs" font-weight="bold" font-style="italic">Aeschynomene evenia</text>
<rect x="1009.81" y="1605.92" width="32.50" height="245.98" fill="#9DC3E6"/>
<path d="M1011.06,1851.90V1605.92H1041.06V1851.90" fill="none" stroke="#000" stroke-width="2.5" stroke-linejoin="miter"/>
<line x1="1026.06" y1="1603.01" x2="1026.06" y2="1608.84" stroke="#595959" stroke-width="2.4"/>
<line x1="1018.46" y1="1603.01" x2="1033.66" y2="1603.01" stroke="#595959" stroke-width="2.6"/>
<line x1="1018.46" y1="1608.84" x2="1033.66" y2="1608.84" stroke="#595959" stroke-width="2.6"/>
<rect x="1048.11" y="1713.51" width="32.50" height="138.39" fill="#F4B183"/>
<path d="M1049.36,1851.90V1713.51H1079.36V1851.90" fill="none" stroke="#000" stroke-width="2.5" stroke-linejoin="miter"/>
<line x1="1064.36" y1="1710.73" x2="1064.36" y2="1716.29" stroke="#595959" stroke-width="2.4"/>
<line x1="1056.76" y1="1710.73" x2="1071.96" y2="1710.73" stroke="#595959" stroke-width="2.6"/>
<line x1="1056.76" y1="1716.29" x2="1071.96" y2="1716.29" stroke="#595959" stroke-width="2.6"/>
<text x="1030.46" y="1896.90" font-size="25.40" textLength="29.22" lengthAdjust="spacingAndGlyphs" stroke="#fff" stroke-width="0.35">2C</text>
<rect x="1129.84" y="1837.53" width="32.50" height="14.37" fill="#9DC3E6"/>
<path d="M1131.09,1851.90V1837.53H1161.09V1851.90" fill="none" stroke="#000" stroke-width="2.5" stroke-linejoin="miter"/>
<line x1="1146.09" y1="1836.74" x2="1146.09" y2="1838.33" stroke="#595959" stroke-width="2.4"/>
<line x1="1138.49" y1="1836.74" x2="1153.69" y2="1836.74" stroke="#595959" stroke-width="2.6"/>
<line x1="1138.49" y1="1838.33" x2="1153.69" y2="1838.33" stroke="#595959" stroke-width="2.6"/>
<rect x="1168.14" y="1766.51" width="32.50" height="85.39" fill="#F4B183"/>
<path d="M1169.39,1851.90V1766.51H1199.39V1851.90" fill="none" stroke="#000" stroke-width="2.5" stroke-linejoin="miter"/>
<line x1="1184.39" y1="1756.17" x2="1184.39" y2="1776.85" stroke="#595959" stroke-width="2.4"/>
<line x1="1176.79" y1="1756.17" x2="1191.99" y2="1756.17" stroke="#595959" stroke-width="2.6"/>
<line x1="1176.79" y1="1776.85" x2="1191.99" y2="1776.85" stroke="#595959" stroke-width="2.6"/>
<text x="1151.12" y="1896.90" font-size="25.40" textLength="28.56" lengthAdjust="spacingAndGlyphs" stroke="#fff" stroke-width="0.35">4C</text>
<line x1="1249.86" y1="1851.20" x2="1282.36" y2="1851.20" stroke="#111" stroke-width="1.8"/>
<rect x="1288.16" y="1819.51" width="32.50" height="32.39" fill="#F4B183"/>
<path d="M1289.41,1851.90V1819.51H1319.41V1851.90" fill="none" stroke="#000" stroke-width="2.5" stroke-linejoin="miter"/>
<line x1="1304.41" y1="1812.09" x2="1304.41" y2="1826.93" stroke="#595959" stroke-width="2.4"/>
<line x1="1296.81" y1="1812.09" x2="1312.01" y2="1812.09" stroke="#595959" stroke-width="2.6"/>
<line x1="1296.81" y1="1826.93" x2="1312.01" y2="1826.93" stroke="#595959" stroke-width="2.6"/>
<text x="1270.67" y="1896.90" font-size="25.40" textLength="29.05" lengthAdjust="spacingAndGlyphs" stroke="#fff" stroke-width="0.35">8C</text>
<rect x="1408.19" y="1847.34" width="32.50" height="4.57" fill="#F4B183"/>
<path d="M1409.44,1851.90V1847.34H1439.44V1851.90" fill="none" stroke="#000" stroke-width="2.5" stroke-linejoin="miter"/>
<line x1="1424.44" y1="1845.48" x2="1424.44" y2="1849.19" stroke="#595959" stroke-width="2.4"/>
<line x1="1416.84" y1="1845.48" x2="1432.04" y2="1845.48" stroke="#595959" stroke-width="2.6"/>
<line x1="1416.84" y1="1849.19" x2="1432.04" y2="1849.19" stroke="#595959" stroke-width="2.6"/>
<text x="1383.08" y="1896.90" font-size="25.40" textLength="43.51" lengthAdjust="spacingAndGlyphs" stroke="#fff" stroke-width="0.35">16C</text>
<rect x="1338.95" y="1618.35" width="14.80" height="14.80" fill="#9DC3E6" stroke="#000" stroke-width="2.5"/>
<text x="1360.28" y="1633.40" font-size="24.70" textLength="52.00" lengthAdjust="spacingAndGlyphs" stroke="#fff" stroke-width="0.35">Root</text>
<rect x="1338.95" y="1655.35" width="14.80" height="14.80" fill="#F4B183" stroke="#000" stroke-width="2.5"/>
<text x="1360.22" y="1670.20" font-size="24.70" textLength="80.20" lengthAdjust="spacingAndGlyphs" stroke="#fff" stroke-width="0.35">Nodule</text>
<line x1="124.70" y1="2219.10" x2="490.20" y2="2219.10" stroke="#D9D9D9" stroke-width="2.0"/>
<line x1="124.70" y1="2165.58" x2="490.20" y2="2165.58" stroke="#D9D9D9" stroke-width="2.0"/>
<line x1="124.70" y1="2112.06" x2="490.20" y2="2112.06" stroke="#D9D9D9" stroke-width="2.0"/>
<line x1="124.70" y1="2058.54" x2="490.20" y2="2058.54" stroke="#D9D9D9" stroke-width="2.0"/>
<line x1="124.70" y1="2005.02" x2="490.20" y2="2005.02" stroke="#D9D9D9" stroke-width="2.0"/>
<line x1="124.70" y1="1951.50" x2="490.20" y2="1951.50" stroke="#D9D9D9" stroke-width="2.0"/>
<text x="86.37" y="2226.80" font-size="25.20" textLength="14.02" lengthAdjust="spacingAndGlyphs" stroke="#fff" stroke-width="0.35">0</text>
<text x="72.35" y="2173.28" font-size="25.20" textLength="28.03" lengthAdjust="spacingAndGlyphs" stroke="#fff" stroke-width="0.35">20</text>
<text x="72.35" y="2119.76" font-size="25.20" textLength="28.03" lengthAdjust="spacingAndGlyphs" stroke="#fff" stroke-width="0.35">40</text>
<text x="72.35" y="2066.24" font-size="25.20" textLength="28.03" lengthAdjust="spacingAndGlyphs" stroke="#fff" stroke-width="0.35">60</text>
<text x="72.35" y="2012.72" font-size="25.20" textLength="28.03" lengthAdjust="spacingAndGlyphs" stroke="#fff" stroke-width="0.35">80</text>
<text x="58.34" y="1959.20" font-size="25.20" textLength="42.05" lengthAdjust="spacingAndGlyphs" stroke="#fff" stroke-width="0.35">100</text>
<text x="-1.58" y="0" font-size="24.70" textLength="279.96" lengthAdjust="spacingAndGlyphs" transform="translate(47.20,2226.10) rotate(-90)" font-weight="bold">Distribution of nuclei (%)</text>
<text x="182.49" y="1939.80" font-size="30.00" textLength="160.35" lengthAdjust="spacingAndGlyphs" font-weight="bold" font-style="italic">A. sensitiva</text>
<rect x="153.47" y="1976.65" width="29.50" height="241.45" fill="#9DC3E6"/>
<path d="M154.72,2218.10V1976.65H181.72V2218.10" fill="none" stroke="#000" stroke-width="2.5" stroke-linejoin="miter"/>
<line x1="168.22" y1="1973.18" x2="168.22" y2="1980.13" stroke="#595959" stroke-width="2.4"/>
<line x1="160.62" y1="1973.18" x2="175.82" y2="1973.18" stroke="#595959" stroke-width="2.6"/>
<line x1="160.62" y1="1980.13" x2="175.82" y2="1980.13" stroke="#595959" stroke-width="2.6"/>
<rect x="188.27" y="1988.96" width="29.50" height="229.14" fill="#F4B183"/>
<path d="M189.52,2218.10V1988.96H216.52V2218.10" fill="none" stroke="#000" stroke-width="2.5" stroke-linejoin="miter"/>
<line x1="203.02" y1="1983.48" x2="203.02" y2="1994.45" stroke="#595959" stroke-width="2.4"/>
<line x1="195.42" y1="1983.48" x2="210.62" y2="1983.48" stroke="#595959" stroke-width="2.6"/>
<line x1="195.42" y1="1994.45" x2="210.62" y2="1994.45" stroke="#595959" stroke-width="2.6"/>
<text x="170.87" y="2263.10" font-size="25.40" textLength="29.22" lengthAdjust="spacingAndGlyphs" stroke="#fff" stroke-width="0.35">2C</text>
<rect x="275.30" y="2197.42" width="29.50" height="20.68" fill="#9DC3E6"/>
<path d="M276.55,2218.10V2197.42H303.55V2218.10" fill="none" stroke="#000" stroke-width="2.5" stroke-linejoin="miter"/>
<line x1="290.05" y1="2196.09" x2="290.05" y2="2198.76" stroke="#595959" stroke-width="2.4"/>
<line x1="282.45" y1="2196.09" x2="297.65" y2="2196.09" stroke="#595959" stroke-width="2.6"/>
<line x1="282.45" y1="2198.76" x2="297.65" y2="2198.76" stroke="#595959" stroke-width="2.6"/>
<rect x="310.10" y="2184.58" width="29.50" height="33.52" fill="#F4B183"/>
<path d="M311.35,2218.10V2184.58H338.35V2218.10" fill="none" stroke="#000" stroke-width="2.5" stroke-linejoin="miter"/>
<line x1="324.85" y1="2179.50" x2="324.85" y2="2189.66" stroke="#595959" stroke-width="2.4"/>
<line x1="317.25" y1="2179.50" x2="332.45" y2="2179.50" stroke="#595959" stroke-width="2.6"/>
<line x1="317.25" y1="2189.66" x2="332.45" y2="2189.66" stroke="#595959" stroke-width="2.6"/>
<text x="293.34" y="2263.10" font-size="25.40" textLength="28.56" lengthAdjust="spacingAndGlyphs" stroke="#fff" stroke-width="0.35">4C</text>
<rect x="397.13" y="2215.60" width="29.50" height="2.50" fill="#9DC3E6"/>
<path d="M398.38,2218.10V2215.60H425.38V2218.10" fill="none" stroke="#000" stroke-width="2.5" stroke-linejoin="miter"/>
<line x1="411.88" y1="2215.35" x2="411.88" y2="2216.42" stroke="#595959" stroke-width="2.4"/>
<line x1="404.28" y1="2215.35" x2="419.48" y2="2215.35" stroke="#595959" stroke-width="2.6"/>
<line x1="404.28" y1="2216.42" x2="419.48" y2="2216.42" stroke="#595959" stroke-width="2.6"/>
<rect x="431.93" y="2215.60" width="29.50" height="2.50" fill="#F4B183"/>
<path d="M433.18,2218.10V2215.60H460.18V2218.10" fill="none" stroke="#000" stroke-width="2.5" stroke-linejoin="miter"/>
<line x1="446.68" y1="2216.16" x2="446.68" y2="2217.23" stroke="#595959" stroke-width="2.4"/>
<line x1="439.08" y1="2216.16" x2="454.28" y2="2216.16" stroke="#595959" stroke-width="2.6"/>
<line x1="439.08" y1="2217.23" x2="454.28" y2="2217.23" stroke="#595959" stroke-width="2.6"/>
<text x="414.70" y="2263.10" font-size="25.40" textLength="29.05" lengthAdjust="spacingAndGlyphs" stroke="#fff" stroke-width="0.35">8C</text>
<rect x="364.35" y="1977.15" width="14.80" height="14.80" fill="#9DC3E6" stroke="#000" stroke-width="2.5"/>
<text x="385.68" y="1992.30" font-size="24.70" textLength="52.00" lengthAdjust="spacingAndGlyphs" stroke="#fff" stroke-width="0.35">Root</text>
<rect x="364.35" y="2021.35" width="14.80" height="14.80" fill="#F4B183" stroke="#000" stroke-width="2.5"/>
<text x="385.62" y="2036.70" font-size="24.70" textLength="80.30" lengthAdjust="spacingAndGlyphs" stroke="#fff" stroke-width="0.35">Nodule</text>
<line x1="608.60" y1="2224.80" x2="978.50" y2="2224.80" stroke="#D9D9D9" stroke-width="2.0"/>
<line x1="608.60" y1="2171.30" x2="978.50" y2="2171.30" stroke="#D9D9D9" stroke-width="2.0"/>
<line x1="608.60" y1="2117.80" x2="978.50" y2="2117.80" stroke="#D9D9D9" stroke-width="2.0"/>
<line x1="608.60" y1="2064.30" x2="978.50" y2="2064.30" stroke="#D9D9D9" stroke-width="2.0"/>
<line x1="608.60" y1="2010.80" x2="978.50" y2="2010.80" stroke="#D9D9D9" stroke-width="2.0"/>
<line x1="608.60" y1="1957.30" x2="978.50" y2="1957.30" stroke="#D9D9D9" stroke-width="2.0"/>
<text x="568.97" y="2232.50" font-size="25.20" textLength="14.02" lengthAdjust="spacingAndGlyphs" stroke="#fff" stroke-width="0.35">0</text>
<text x="554.95" y="2179.00" font-size="25.20" textLength="28.03" lengthAdjust="spacingAndGlyphs" stroke="#fff" stroke-width="0.35">20</text>
<text x="554.95" y="2125.50" font-size="25.20" textLength="28.03" lengthAdjust="spacingAndGlyphs" stroke="#fff" stroke-width="0.35">40</text>
<text x="554.95" y="2072.00" font-size="25.20" textLength="28.03" lengthAdjust="spacingAndGlyphs" stroke="#fff" stroke-width="0.35">60</text>
<text x="554.95" y="2018.50" font-size="25.20" textLength="28.03" lengthAdjust="spacingAndGlyphs" stroke="#fff" stroke-width="0.35">80</text>
<text x="540.94" y="1965.00" font-size="25.20" textLength="42.05" lengthAdjust="spacingAndGlyphs" stroke="#fff" stroke-width="0.35">100</text>
<text x="-1.59" y="0" font-size="24.70" textLength="280.77" lengthAdjust="spacingAndGlyphs" transform="translate(527.10,2231.90) rotate(-90)" font-weight="bold">Distribution of nuclei (%)</text>
<text x="728.08" y="1942.80" font-size="30.00" textLength="108.44" lengthAdjust="spacingAndGlyphs" font-weight="bold" font-style="italic">A. selloi</text>
<rect x="638.00" y="1979.23" width="29.50" height="244.57" fill="#9DC3E6"/>
<path d="M639.25,2223.80V1979.23H666.25V2223.80" fill="none" stroke="#000" stroke-width="2.5" stroke-linejoin="miter"/>
<line x1="652.75" y1="1976.56" x2="652.75" y2="1981.91" stroke="#595959" stroke-width="2.4"/>
<line x1="645.15" y1="1976.56" x2="660.35" y2="1976.56" stroke="#595959" stroke-width="2.6"/>
<line x1="645.15" y1="1981.91" x2="660.35" y2="1981.91" stroke="#595959" stroke-width="2.6"/>
<rect x="673.00" y="2070.18" width="29.50" height="153.62" fill="#F4B183"/>
<path d="M674.25,2223.80V2070.18H701.25V2223.80" fill="none" stroke="#000" stroke-width="2.5" stroke-linejoin="miter"/>
<line x1="687.75" y1="2066.17" x2="687.75" y2="2074.20" stroke="#595959" stroke-width="2.4"/>
<line x1="680.15" y1="2066.17" x2="695.35" y2="2066.17" stroke="#595959" stroke-width="2.6"/>
<line x1="680.15" y1="2074.20" x2="695.35" y2="2074.20" stroke="#595959" stroke-width="2.6"/>
<text x="655.50" y="2268.80" font-size="25.40" textLength="29.22" lengthAdjust="spacingAndGlyphs" stroke="#fff" stroke-width="0.35">2C</text>
<rect x="761.30" y="2203.67" width="29.50" height="20.13" fill="#9DC3E6"/>
<path d="M762.55,2223.80V2203.67H789.55V2223.80" fill="none" stroke="#000" stroke-width="2.5" stroke-linejoin="miter"/>
<line x1="776.05" y1="2200.46" x2="776.05" y2="2206.88" stroke="#595959" stroke-width="2.4"/>
<line x1="768.45" y1="2200.46" x2="783.65" y2="2200.46" stroke="#595959" stroke-width="2.6"/>
<line x1="768.45" y1="2206.88" x2="783.65" y2="2206.88" stroke="#595959" stroke-width="2.6"/>
<rect x="796.30" y="2134.92" width="29.50" height="88.88" fill="#F4B183"/>
<path d="M797.55,2223.80V2134.92H824.55V2223.80" fill="none" stroke="#000" stroke-width="2.5" stroke-linejoin="miter"/>
<line x1="811.05" y1="2129.03" x2="811.05" y2="2140.81" stroke="#595959" stroke-width="2.4"/>
<line x1="803.45" y1="2129.03" x2="818.65" y2="2129.03" stroke="#595959" stroke-width="2.6"/>
<line x1="803.45" y1="2140.81" x2="818.65" y2="2140.81" stroke="#595959" stroke-width="2.6"/>
<text x="779.44" y="2268.80" font-size="25.40" textLength="28.56" lengthAdjust="spacingAndGlyphs" stroke="#fff" stroke-width="0.35">4C</text>
<line x1="884.60" y1="2223.10" x2="914.10" y2="2223.10" stroke="#111" stroke-width="1.8"/>
<rect x="919.60" y="2202.06" width="29.50" height="21.74" fill="#F4B183"/>
<path d="M920.85,2223.80V2202.06H947.85V2223.80" fill="none" stroke="#000" stroke-width="2.5" stroke-linejoin="miter"/>
<line x1="934.35" y1="2193.24" x2="934.35" y2="2210.89" stroke="#595959" stroke-width="2.4"/>
<line x1="926.75" y1="2193.24" x2="941.95" y2="2193.24" stroke="#595959" stroke-width="2.6"/>
<line x1="926.75" y1="2210.89" x2="941.95" y2="2210.89" stroke="#595959" stroke-width="2.6"/>
<text x="902.26" y="2268.80" font-size="25.40" textLength="29.05" lengthAdjust="spacingAndGlyphs" stroke="#fff" stroke-width="0.35">8C</text>
<rect x="856.55" y="1983.15" width="14.80" height="14.80" fill="#9DC3E6" stroke="#000" stroke-width="2.5"/>
<text x="877.88" y="1998.30" font-size="24.70" textLength="52.10" lengthAdjust="spacingAndGlyphs" stroke="#fff" stroke-width="0.35">Root</text>
<rect x="856.55" y="2020.15" width="14.80" height="14.80" fill="#F4B183" stroke="#000" stroke-width="2.5"/>
<text x="877.83" y="2035.00" font-size="24.70" textLength="79.99" lengthAdjust="spacingAndGlyphs" stroke="#fff" stroke-width="0.35">Nodule</text>
<line x1="1102.60" y1="2230.90" x2="1468.50" y2="2230.90" stroke="#D9D9D9" stroke-width="2.0"/>
<line x1="1102.60" y1="2176.04" x2="1468.50" y2="2176.04" stroke="#D9D9D9" stroke-width="2.0"/>
<line x1="1102.60" y1="2121.18" x2="1468.50" y2="2121.18" stroke="#D9D9D9" stroke-width="2.0"/>
<line x1="1102.60" y1="2066.32" x2="1468.50" y2="2066.32" stroke="#D9D9D9" stroke-width="2.0"/>
<line x1="1102.60" y1="2011.46" x2="1468.50" y2="2011.46" stroke="#D9D9D9" stroke-width="2.0"/>
<line x1="1102.60" y1="1956.60" x2="1468.50" y2="1956.60" stroke="#D9D9D9" stroke-width="2.0"/>
<text x="1062.97" y="2238.60" font-size="25.20" textLength="14.02" lengthAdjust="spacingAndGlyphs" stroke="#fff" stroke-width="0.35">0</text>
<text x="1048.95" y="2183.74" font-size="25.20" textLength="28.03" lengthAdjust="spacingAndGlyphs" stroke="#fff" stroke-width="0.35">20</text>
<text x="1048.95" y="2128.88" font-size="25.20" textLength="28.03" lengthAdjust="spacingAndGlyphs" stroke="#fff" stroke-width="0.35">40</text>
<text x="1048.95" y="2074.02" font-size="25.20" textLength="28.03" lengthAdjust="spacingAndGlyphs" stroke="#fff" stroke-width="0.35">60</text>
<text x="1048.95" y="2019.16" font-size="25.20" textLength="28.03" lengthAdjust="spacingAndGlyphs" stroke="#fff" stroke-width="0.35">80</text>
<text x="1034.94" y="1964.30" font-size="25.20" textLength="42.05" lengthAdjust="spacingAndGlyphs" stroke="#fff" stroke-width="0.35">100</text>
<text x="-1.59" y="0" font-size="24.70" textLength="280.77" lengthAdjust="spacingAndGlyphs" transform="translate(1020.10,2231.90) rotate(-90)" font-weight="bold">Distribution of nuclei (%)</text>
<text x="1215.39" y="1937.10" font-size="30.00" textLength="129.95" lengthAdjust="spacingAndGlyphs" font-weight="bold" font-style="italic">A. scabra</text>
<rect x="1131.43" y="1976.62" width="29.50" height="253.28" fill="#9DC3E6"/>
<path d="M1132.68,2229.90V1976.62H1159.68V2229.90" fill="none" stroke="#000" stroke-width="2.5" stroke-linejoin="miter"/>
<line x1="1146.18" y1="1967.30" x2="1146.18" y2="1985.95" stroke="#595959" stroke-width="2.4"/>
<line x1="1138.58" y1="1967.30" x2="1153.78" y2="1967.30" stroke="#595959" stroke-width="2.6"/>
<line x1="1138.58" y1="1985.95" x2="1153.78" y2="1985.95" stroke="#595959" stroke-width="2.6"/>
<rect x="1166.23" y="2005.43" width="29.50" height="224.47" fill="#F4B183"/>
<path d="M1167.48,2229.90V2005.43H1194.48V2229.90" fill="none" stroke="#000" stroke-width="2.5" stroke-linejoin="miter"/>
<line x1="1180.98" y1="1998.29" x2="1180.98" y2="2012.56" stroke="#595959" stroke-width="2.4"/>
<line x1="1173.38" y1="1998.29" x2="1188.58" y2="1998.29" stroke="#595959" stroke-width="2.6"/>
<line x1="1173.38" y1="2012.56" x2="1188.58" y2="2012.56" stroke="#595959" stroke-width="2.6"/>
<text x="1148.83" y="2274.90" font-size="25.40" textLength="29.22" lengthAdjust="spacingAndGlyphs" stroke="#fff" stroke-width="0.35">2C</text>
<rect x="1253.40" y="2214.99" width="29.50" height="14.91" fill="#9DC3E6"/>
<path d="M1254.65,2229.90V2214.99H1281.65V2229.90" fill="none" stroke="#000" stroke-width="2.5" stroke-linejoin="miter"/>
<line x1="1268.15" y1="2208.13" x2="1268.15" y2="2221.85" stroke="#595959" stroke-width="2.4"/>
<line x1="1260.55" y1="2208.13" x2="1275.75" y2="2208.13" stroke="#595959" stroke-width="2.6"/>
<line x1="1260.55" y1="2221.85" x2="1275.75" y2="2221.85" stroke="#595959" stroke-width="2.6"/>
<rect x="1288.20" y="2193.05" width="29.50" height="36.85" fill="#F4B183"/>
<path d="M1289.45,2229.90V2193.05H1316.45V2229.90" fill="none" stroke="#000" stroke-width="2.5" stroke-linejoin="miter"/>
<line x1="1302.95" y1="2188.38" x2="1302.95" y2="2197.71" stroke="#595959" stroke-width="2.4"/>
<line x1="1295.35" y1="2188.38" x2="1310.55" y2="2188.38" stroke="#595959" stroke-width="2.6"/>
<line x1="1295.35" y1="2197.71" x2="1310.55" y2="2197.71" stroke="#595959" stroke-width="2.6"/>
<text x="1271.44" y="2274.90" font-size="25.40" textLength="28.56" lengthAdjust="spacingAndGlyphs" stroke="#fff" stroke-width="0.35">4C</text>
<rect x="1375.37" y="2226.24" width="29.50" height="3.66" fill="#9DC3E6"/>
<path d="M1376.62,2229.90V2226.24H1403.62V2229.90" fill="none" stroke="#000" stroke-width="2.5" stroke-linejoin="miter"/>
<line x1="1390.12" y1="2223.49" x2="1390.12" y2="2228.98" stroke="#595959" stroke-width="2.4"/>
<line x1="1382.52" y1="2223.49" x2="1397.72" y2="2223.49" stroke="#595959" stroke-width="2.6"/>
<line x1="1382.52" y1="2228.98" x2="1397.72" y2="2228.98" stroke="#595959" stroke-width="2.6"/>
<rect x="1410.17" y="2218.56" width="29.50" height="11.34" fill="#F4B183"/>
<path d="M1411.42,2229.90V2218.56H1438.42V2229.90" fill="none" stroke="#000" stroke-width="2.5" stroke-linejoin="miter"/>
<line x1="1424.92" y1="2211.97" x2="1424.92" y2="2225.14" stroke="#595959" stroke-width="2.4"/>
<line x1="1417.32" y1="2211.97" x2="1432.52" y2="2211.97" stroke="#595959" stroke-width="2.6"/>
<line x1="1417.32" y1="2225.14" x2="1432.52" y2="2225.14" stroke="#595959" stroke-width="2.6"/>
<text x="1392.93" y="2274.90" font-size="25.40" textLength="29.05" lengthAdjust="spacingAndGlyphs" stroke="#fff" stroke-width="0.35">8C</text>
<rect x="1346.55" y="1985.55" width="14.80" height="14.80" fill="#9DC3E6" stroke="#000" stroke-width="2.5"/>
<text x="1367.90" y="2000.60" font-size="24.70" textLength="51.48" lengthAdjust="spacingAndGlyphs" stroke="#fff" stroke-width="0.35">Root</text>
<rect x="1346.55" y="2021.55" width="14.80" height="14.80" fill="#F4B183" stroke="#000" stroke-width="2.5"/>
<text x="1367.83" y="2036.40" font-size="24.70" textLength="79.99" lengthAdjust="spacingAndGlyphs" stroke="#fff" stroke-width="0.35">Nodule</text>
</svg>
</body></html>
